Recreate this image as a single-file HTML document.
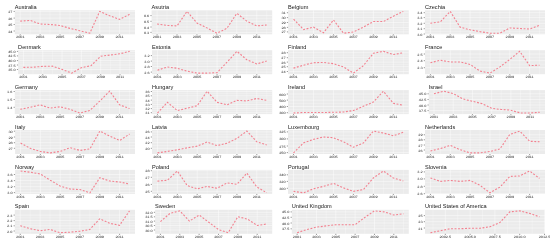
<!DOCTYPE html>
<html><head><meta charset="utf-8"><style>
html,body{margin:0;padding:0;background:#fff;width:550px;height:243px;overflow:hidden}
svg{display:block;will-change:transform}
text{font-family:"Liberation Sans",sans-serif}
.t{font-size:4.6px;fill:#1a1a1a}
.a{font-size:3.2px;fill:#2a2a2a;text-rendering:geometricPrecision}
</style></head><body>
<svg width="550" height="243" viewBox="0 0 550 243">
<rect width="550" height="243" fill="#fff"/>
<rect x="14.80" y="10.30" width="120.20" height="24.00" fill="#EBEBEB"/>
<line x1="30.20" y1="10.30" x2="30.20" y2="34.30" stroke="#fff" stroke-width="0.25"/>
<line x1="50.07" y1="10.30" x2="50.07" y2="34.30" stroke="#fff" stroke-width="0.25"/>
<line x1="69.93" y1="10.30" x2="69.93" y2="34.30" stroke="#fff" stroke-width="0.25"/>
<line x1="89.80" y1="10.30" x2="89.80" y2="34.30" stroke="#fff" stroke-width="0.25"/>
<line x1="109.67" y1="10.30" x2="109.67" y2="34.30" stroke="#fff" stroke-width="0.25"/>
<line x1="129.54" y1="10.30" x2="129.54" y2="34.30" stroke="#fff" stroke-width="0.25"/>
<line x1="20.26" y1="10.30" x2="20.26" y2="34.30" stroke="#fff" stroke-width="0.45"/>
<line x1="40.13" y1="10.30" x2="40.13" y2="34.30" stroke="#fff" stroke-width="0.45"/>
<line x1="60.00" y1="10.30" x2="60.00" y2="34.30" stroke="#fff" stroke-width="0.45"/>
<line x1="79.87" y1="10.30" x2="79.87" y2="34.30" stroke="#fff" stroke-width="0.45"/>
<line x1="99.73" y1="10.30" x2="99.73" y2="34.30" stroke="#fff" stroke-width="0.45"/>
<line x1="119.60" y1="10.30" x2="119.60" y2="34.30" stroke="#fff" stroke-width="0.45"/>
<line x1="14.80" y1="11.40" x2="135.00" y2="11.40" stroke="#fff" stroke-width="0.45"/>
<line x1="14.80" y1="14.75" x2="135.00" y2="14.75" stroke="#fff" stroke-width="0.25"/>
<line x1="14.80" y1="18.10" x2="135.00" y2="18.10" stroke="#fff" stroke-width="0.45"/>
<line x1="14.80" y1="21.30" x2="135.00" y2="21.30" stroke="#fff" stroke-width="0.25"/>
<line x1="14.80" y1="24.50" x2="135.00" y2="24.50" stroke="#fff" stroke-width="0.45"/>
<line x1="14.80" y1="27.75" x2="135.00" y2="27.75" stroke="#fff" stroke-width="0.25"/>
<line x1="14.80" y1="31.00" x2="135.00" y2="31.00" stroke="#fff" stroke-width="0.45"/>
<polyline points="20.26,21.09 30.20,20.36 40.13,24.00 50.07,24.48 60.00,25.45 69.93,28.36 79.87,30.78 89.80,33.21 99.73,11.39 109.67,15.75 119.60,19.39 129.54,14.30" fill="none" stroke="#F3808F" stroke-width="1.1" stroke-dasharray="1.9,1.6"/>
<line x1="13.60" y1="11.40" x2="14.80" y2="11.40" stroke="#333" stroke-width="0.5"/>
<text x="0" y="0" transform="translate(12.40,12.95) scale(1.2,1)" text-anchor="end" class="a">27</text>
<line x1="13.60" y1="18.10" x2="14.80" y2="18.10" stroke="#333" stroke-width="0.5"/>
<text x="0" y="0" transform="translate(12.40,19.65) scale(1.2,1)" text-anchor="end" class="a">26</text>
<line x1="13.60" y1="24.50" x2="14.80" y2="24.50" stroke="#333" stroke-width="0.5"/>
<text x="0" y="0" transform="translate(12.40,26.05) scale(1.2,1)" text-anchor="end" class="a">25</text>
<line x1="13.60" y1="31.00" x2="14.80" y2="31.00" stroke="#333" stroke-width="0.5"/>
<text x="0" y="0" transform="translate(12.40,32.55) scale(1.2,1)" text-anchor="end" class="a">24</text>
<line x1="20.26" y1="34.30" x2="20.26" y2="35.50" stroke="#333" stroke-width="0.5"/>
<text x="0" y="0" transform="translate(20.26,38.40) scale(1.2,1)" text-anchor="middle" class="a">2001</text>
<line x1="40.13" y1="34.30" x2="40.13" y2="35.50" stroke="#333" stroke-width="0.5"/>
<text x="0" y="0" transform="translate(40.13,38.40) scale(1.2,1)" text-anchor="middle" class="a">2003</text>
<line x1="60.00" y1="34.30" x2="60.00" y2="35.50" stroke="#333" stroke-width="0.5"/>
<text x="0" y="0" transform="translate(60.00,38.40) scale(1.2,1)" text-anchor="middle" class="a">2005</text>
<line x1="79.87" y1="34.30" x2="79.87" y2="35.50" stroke="#333" stroke-width="0.5"/>
<text x="0" y="0" transform="translate(79.87,38.40) scale(1.2,1)" text-anchor="middle" class="a">2007</text>
<line x1="99.73" y1="34.30" x2="99.73" y2="35.50" stroke="#333" stroke-width="0.5"/>
<text x="0" y="0" transform="translate(99.73,38.40) scale(1.2,1)" text-anchor="middle" class="a">2009</text>
<line x1="119.60" y1="34.30" x2="119.60" y2="35.50" stroke="#333" stroke-width="0.5"/>
<text x="0" y="0" transform="translate(119.60,38.40) scale(1.2,1)" text-anchor="middle" class="a">2011</text>
<text x="0" y="0" transform="translate(14.80,8.90) scale(1.22,1)" class="t">Australia</text>
<rect x="151.60" y="10.30" width="120.60" height="24.00" fill="#EBEBEB"/>
<line x1="167.05" y1="10.30" x2="167.05" y2="34.30" stroke="#fff" stroke-width="0.25"/>
<line x1="186.98" y1="10.30" x2="186.98" y2="34.30" stroke="#fff" stroke-width="0.25"/>
<line x1="206.92" y1="10.30" x2="206.92" y2="34.30" stroke="#fff" stroke-width="0.25"/>
<line x1="226.85" y1="10.30" x2="226.85" y2="34.30" stroke="#fff" stroke-width="0.25"/>
<line x1="246.78" y1="10.30" x2="246.78" y2="34.30" stroke="#fff" stroke-width="0.25"/>
<line x1="266.72" y1="10.30" x2="266.72" y2="34.30" stroke="#fff" stroke-width="0.25"/>
<line x1="157.08" y1="10.30" x2="157.08" y2="34.30" stroke="#fff" stroke-width="0.45"/>
<line x1="177.02" y1="10.30" x2="177.02" y2="34.30" stroke="#fff" stroke-width="0.45"/>
<line x1="196.95" y1="10.30" x2="196.95" y2="34.30" stroke="#fff" stroke-width="0.45"/>
<line x1="216.88" y1="10.30" x2="216.88" y2="34.30" stroke="#fff" stroke-width="0.45"/>
<line x1="236.82" y1="10.30" x2="236.82" y2="34.30" stroke="#fff" stroke-width="0.45"/>
<line x1="256.75" y1="10.30" x2="256.75" y2="34.30" stroke="#fff" stroke-width="0.45"/>
<line x1="151.60" y1="15.60" x2="272.20" y2="15.60" stroke="#fff" stroke-width="0.45"/>
<line x1="151.60" y1="18.45" x2="272.20" y2="18.45" stroke="#fff" stroke-width="0.25"/>
<line x1="151.60" y1="21.30" x2="272.20" y2="21.30" stroke="#fff" stroke-width="0.45"/>
<line x1="151.60" y1="24.15" x2="272.20" y2="24.15" stroke="#fff" stroke-width="0.25"/>
<line x1="151.60" y1="27.00" x2="272.20" y2="27.00" stroke="#fff" stroke-width="0.45"/>
<line x1="151.60" y1="29.70" x2="272.20" y2="29.70" stroke="#fff" stroke-width="0.25"/>
<line x1="151.60" y1="32.40" x2="272.20" y2="32.40" stroke="#fff" stroke-width="0.45"/>
<polyline points="157.08,24.00 167.05,25.45 177.02,25.94 186.98,11.39 196.95,23.03 206.92,27.88 216.88,33.21 226.85,28.36 236.82,13.33 246.78,21.09 256.75,25.94 266.72,24.97" fill="none" stroke="#F3808F" stroke-width="1.1" stroke-dasharray="1.9,1.6"/>
<line x1="150.40" y1="15.60" x2="151.60" y2="15.60" stroke="#333" stroke-width="0.5"/>
<text x="0" y="0" transform="translate(149.20,17.15) scale(1.2,1)" text-anchor="end" class="a">0.6</text>
<line x1="150.40" y1="21.30" x2="151.60" y2="21.30" stroke="#333" stroke-width="0.5"/>
<text x="0" y="0" transform="translate(149.20,22.85) scale(1.2,1)" text-anchor="end" class="a">0.5</text>
<line x1="150.40" y1="27.00" x2="151.60" y2="27.00" stroke="#333" stroke-width="0.5"/>
<text x="0" y="0" transform="translate(149.20,28.55) scale(1.2,1)" text-anchor="end" class="a">0.4</text>
<line x1="150.40" y1="32.40" x2="151.60" y2="32.40" stroke="#333" stroke-width="0.5"/>
<text x="0" y="0" transform="translate(149.20,33.95) scale(1.2,1)" text-anchor="end" class="a">0.3</text>
<line x1="157.08" y1="34.30" x2="157.08" y2="35.50" stroke="#333" stroke-width="0.5"/>
<text x="0" y="0" transform="translate(157.08,38.40) scale(1.2,1)" text-anchor="middle" class="a">2001</text>
<line x1="177.02" y1="34.30" x2="177.02" y2="35.50" stroke="#333" stroke-width="0.5"/>
<text x="0" y="0" transform="translate(177.02,38.40) scale(1.2,1)" text-anchor="middle" class="a">2003</text>
<line x1="196.95" y1="34.30" x2="196.95" y2="35.50" stroke="#333" stroke-width="0.5"/>
<text x="0" y="0" transform="translate(196.95,38.40) scale(1.2,1)" text-anchor="middle" class="a">2005</text>
<line x1="216.88" y1="34.30" x2="216.88" y2="35.50" stroke="#333" stroke-width="0.5"/>
<text x="0" y="0" transform="translate(216.88,38.40) scale(1.2,1)" text-anchor="middle" class="a">2007</text>
<line x1="236.82" y1="34.30" x2="236.82" y2="35.50" stroke="#333" stroke-width="0.5"/>
<text x="0" y="0" transform="translate(236.82,38.40) scale(1.2,1)" text-anchor="middle" class="a">2009</text>
<line x1="256.75" y1="34.30" x2="256.75" y2="35.50" stroke="#333" stroke-width="0.5"/>
<text x="0" y="0" transform="translate(256.75,38.40) scale(1.2,1)" text-anchor="middle" class="a">2011</text>
<text x="0" y="0" transform="translate(151.60,8.90) scale(1.22,1)" class="t">Asutria</text>
<rect x="288.10" y="10.30" width="120.70" height="24.00" fill="#EBEBEB"/>
<line x1="303.56" y1="10.30" x2="303.56" y2="34.30" stroke="#fff" stroke-width="0.25"/>
<line x1="323.51" y1="10.30" x2="323.51" y2="34.30" stroke="#fff" stroke-width="0.25"/>
<line x1="343.46" y1="10.30" x2="343.46" y2="34.30" stroke="#fff" stroke-width="0.25"/>
<line x1="363.41" y1="10.30" x2="363.41" y2="34.30" stroke="#fff" stroke-width="0.25"/>
<line x1="383.36" y1="10.30" x2="383.36" y2="34.30" stroke="#fff" stroke-width="0.25"/>
<line x1="403.31" y1="10.30" x2="403.31" y2="34.30" stroke="#fff" stroke-width="0.25"/>
<line x1="293.59" y1="10.30" x2="293.59" y2="34.30" stroke="#fff" stroke-width="0.45"/>
<line x1="313.54" y1="10.30" x2="313.54" y2="34.30" stroke="#fff" stroke-width="0.45"/>
<line x1="333.49" y1="10.30" x2="333.49" y2="34.30" stroke="#fff" stroke-width="0.45"/>
<line x1="353.44" y1="10.30" x2="353.44" y2="34.30" stroke="#fff" stroke-width="0.45"/>
<line x1="373.39" y1="10.30" x2="373.39" y2="34.30" stroke="#fff" stroke-width="0.45"/>
<line x1="393.34" y1="10.30" x2="393.34" y2="34.30" stroke="#fff" stroke-width="0.45"/>
<line x1="288.10" y1="12.70" x2="408.80" y2="12.70" stroke="#fff" stroke-width="0.45"/>
<line x1="288.10" y1="15.15" x2="408.80" y2="15.15" stroke="#fff" stroke-width="0.25"/>
<line x1="288.10" y1="17.60" x2="408.80" y2="17.60" stroke="#fff" stroke-width="0.45"/>
<line x1="288.10" y1="20.05" x2="408.80" y2="20.05" stroke="#fff" stroke-width="0.25"/>
<line x1="288.10" y1="22.50" x2="408.80" y2="22.50" stroke="#fff" stroke-width="0.45"/>
<line x1="288.10" y1="24.95" x2="408.80" y2="24.95" stroke="#fff" stroke-width="0.25"/>
<line x1="288.10" y1="27.40" x2="408.80" y2="27.40" stroke="#fff" stroke-width="0.45"/>
<line x1="288.10" y1="29.65" x2="408.80" y2="29.65" stroke="#fff" stroke-width="0.25"/>
<line x1="288.10" y1="31.90" x2="408.80" y2="31.90" stroke="#fff" stroke-width="0.45"/>
<polyline points="293.59,19.15 303.56,29.57 313.54,27.15 323.51,32.72 333.49,19.88 343.46,33.21 353.44,32.00 363.41,27.15 373.39,21.57 383.36,21.57 393.34,16.24 403.31,11.39" fill="none" stroke="#F3808F" stroke-width="1.1" stroke-dasharray="1.9,1.6"/>
<line x1="286.90" y1="12.70" x2="288.10" y2="12.70" stroke="#333" stroke-width="0.5"/>
<text x="0" y="0" transform="translate(285.70,14.25) scale(1.2,1)" text-anchor="end" class="a">31</text>
<line x1="286.90" y1="17.60" x2="288.10" y2="17.60" stroke="#333" stroke-width="0.5"/>
<text x="0" y="0" transform="translate(285.70,19.15) scale(1.2,1)" text-anchor="end" class="a">30</text>
<line x1="286.90" y1="22.50" x2="288.10" y2="22.50" stroke="#333" stroke-width="0.5"/>
<text x="0" y="0" transform="translate(285.70,24.05) scale(1.2,1)" text-anchor="end" class="a">29</text>
<line x1="286.90" y1="27.40" x2="288.10" y2="27.40" stroke="#333" stroke-width="0.5"/>
<text x="0" y="0" transform="translate(285.70,28.95) scale(1.2,1)" text-anchor="end" class="a">28</text>
<line x1="286.90" y1="31.90" x2="288.10" y2="31.90" stroke="#333" stroke-width="0.5"/>
<text x="0" y="0" transform="translate(285.70,33.45) scale(1.2,1)" text-anchor="end" class="a">27</text>
<line x1="293.59" y1="34.30" x2="293.59" y2="35.50" stroke="#333" stroke-width="0.5"/>
<text x="0" y="0" transform="translate(293.59,38.40) scale(1.2,1)" text-anchor="middle" class="a">2001</text>
<line x1="313.54" y1="34.30" x2="313.54" y2="35.50" stroke="#333" stroke-width="0.5"/>
<text x="0" y="0" transform="translate(313.54,38.40) scale(1.2,1)" text-anchor="middle" class="a">2003</text>
<line x1="333.49" y1="34.30" x2="333.49" y2="35.50" stroke="#333" stroke-width="0.5"/>
<text x="0" y="0" transform="translate(333.49,38.40) scale(1.2,1)" text-anchor="middle" class="a">2005</text>
<line x1="353.44" y1="34.30" x2="353.44" y2="35.50" stroke="#333" stroke-width="0.5"/>
<text x="0" y="0" transform="translate(353.44,38.40) scale(1.2,1)" text-anchor="middle" class="a">2007</text>
<line x1="373.39" y1="34.30" x2="373.39" y2="35.50" stroke="#333" stroke-width="0.5"/>
<text x="0" y="0" transform="translate(373.39,38.40) scale(1.2,1)" text-anchor="middle" class="a">2009</text>
<line x1="393.34" y1="34.30" x2="393.34" y2="35.50" stroke="#333" stroke-width="0.5"/>
<text x="0" y="0" transform="translate(393.34,38.40) scale(1.2,1)" text-anchor="middle" class="a">2011</text>
<text x="0" y="0" transform="translate(288.10,8.90) scale(1.22,1)" class="t">Belgium</text>
<rect x="424.90" y="10.30" width="120.10" height="24.00" fill="#EBEBEB"/>
<line x1="440.28" y1="10.30" x2="440.28" y2="34.30" stroke="#fff" stroke-width="0.25"/>
<line x1="460.14" y1="10.30" x2="460.14" y2="34.30" stroke="#fff" stroke-width="0.25"/>
<line x1="479.99" y1="10.30" x2="479.99" y2="34.30" stroke="#fff" stroke-width="0.25"/>
<line x1="499.84" y1="10.30" x2="499.84" y2="34.30" stroke="#fff" stroke-width="0.25"/>
<line x1="519.69" y1="10.30" x2="519.69" y2="34.30" stroke="#fff" stroke-width="0.25"/>
<line x1="539.54" y1="10.30" x2="539.54" y2="34.30" stroke="#fff" stroke-width="0.25"/>
<line x1="430.36" y1="10.30" x2="430.36" y2="34.30" stroke="#fff" stroke-width="0.45"/>
<line x1="450.21" y1="10.30" x2="450.21" y2="34.30" stroke="#fff" stroke-width="0.45"/>
<line x1="470.06" y1="10.30" x2="470.06" y2="34.30" stroke="#fff" stroke-width="0.45"/>
<line x1="489.91" y1="10.30" x2="489.91" y2="34.30" stroke="#fff" stroke-width="0.45"/>
<line x1="509.76" y1="10.30" x2="509.76" y2="34.30" stroke="#fff" stroke-width="0.45"/>
<line x1="529.62" y1="10.30" x2="529.62" y2="34.30" stroke="#fff" stroke-width="0.45"/>
<line x1="424.90" y1="12.70" x2="545.00" y2="12.70" stroke="#fff" stroke-width="0.45"/>
<line x1="424.90" y1="15.15" x2="545.00" y2="15.15" stroke="#fff" stroke-width="0.25"/>
<line x1="424.90" y1="17.60" x2="545.00" y2="17.60" stroke="#fff" stroke-width="0.45"/>
<line x1="424.90" y1="20.45" x2="545.00" y2="20.45" stroke="#fff" stroke-width="0.25"/>
<line x1="424.90" y1="23.30" x2="545.00" y2="23.30" stroke="#fff" stroke-width="0.45"/>
<line x1="424.90" y1="26.00" x2="545.00" y2="26.00" stroke="#fff" stroke-width="0.25"/>
<line x1="424.90" y1="28.70" x2="545.00" y2="28.70" stroke="#fff" stroke-width="0.45"/>
<line x1="424.90" y1="31.35" x2="545.00" y2="31.35" stroke="#fff" stroke-width="0.25"/>
<line x1="424.90" y1="34.00" x2="545.00" y2="34.00" stroke="#fff" stroke-width="0.45"/>
<polyline points="430.36,23.22 440.28,21.91 450.21,11.39 460.14,27.16 470.06,29.79 479.99,31.63 489.91,33.21 499.84,33.21 509.76,27.95 519.69,28.48 529.62,29.00 539.54,25.32" fill="none" stroke="#F3808F" stroke-width="1.1" stroke-dasharray="1.9,1.6"/>
<line x1="423.70" y1="12.70" x2="424.90" y2="12.70" stroke="#333" stroke-width="0.5"/>
<text x="0" y="0" transform="translate(422.50,14.25) scale(1.2,1)" text-anchor="end" class="a">3.4</text>
<line x1="423.70" y1="17.60" x2="424.90" y2="17.60" stroke="#333" stroke-width="0.5"/>
<text x="0" y="0" transform="translate(422.50,19.15) scale(1.2,1)" text-anchor="end" class="a">3.3</text>
<line x1="423.70" y1="23.30" x2="424.90" y2="23.30" stroke="#333" stroke-width="0.5"/>
<text x="0" y="0" transform="translate(422.50,24.85) scale(1.2,1)" text-anchor="end" class="a">3.2</text>
<line x1="423.70" y1="28.70" x2="424.90" y2="28.70" stroke="#333" stroke-width="0.5"/>
<text x="0" y="0" transform="translate(422.50,30.25) scale(1.2,1)" text-anchor="end" class="a">3.1</text>
<line x1="423.70" y1="34.00" x2="424.90" y2="34.00" stroke="#333" stroke-width="0.5"/>
<text x="0" y="0" transform="translate(422.50,35.55) scale(1.2,1)" text-anchor="end" class="a">3.0</text>
<line x1="430.36" y1="34.30" x2="430.36" y2="35.50" stroke="#333" stroke-width="0.5"/>
<text x="0" y="0" transform="translate(430.36,38.40) scale(1.2,1)" text-anchor="middle" class="a">2001</text>
<line x1="450.21" y1="34.30" x2="450.21" y2="35.50" stroke="#333" stroke-width="0.5"/>
<text x="0" y="0" transform="translate(450.21,38.40) scale(1.2,1)" text-anchor="middle" class="a">2003</text>
<line x1="470.06" y1="34.30" x2="470.06" y2="35.50" stroke="#333" stroke-width="0.5"/>
<text x="0" y="0" transform="translate(470.06,38.40) scale(1.2,1)" text-anchor="middle" class="a">2005</text>
<line x1="489.91" y1="34.30" x2="489.91" y2="35.50" stroke="#333" stroke-width="0.5"/>
<text x="0" y="0" transform="translate(489.91,38.40) scale(1.2,1)" text-anchor="middle" class="a">2007</text>
<line x1="509.76" y1="34.30" x2="509.76" y2="35.50" stroke="#333" stroke-width="0.5"/>
<text x="0" y="0" transform="translate(509.76,38.40) scale(1.2,1)" text-anchor="middle" class="a">2009</text>
<line x1="529.62" y1="34.30" x2="529.62" y2="35.50" stroke="#333" stroke-width="0.5"/>
<text x="0" y="0" transform="translate(529.62,38.40) scale(1.2,1)" text-anchor="middle" class="a">2011</text>
<text x="0" y="0" transform="translate(424.90,8.90) scale(1.22,1)" class="t">Czechia</text>
<rect x="18.10" y="50.20" width="116.90" height="24.00" fill="#EBEBEB"/>
<line x1="33.07" y1="50.20" x2="33.07" y2="74.20" stroke="#fff" stroke-width="0.25"/>
<line x1="52.40" y1="50.20" x2="52.40" y2="74.20" stroke="#fff" stroke-width="0.25"/>
<line x1="71.72" y1="50.20" x2="71.72" y2="74.20" stroke="#fff" stroke-width="0.25"/>
<line x1="91.04" y1="50.20" x2="91.04" y2="74.20" stroke="#fff" stroke-width="0.25"/>
<line x1="110.36" y1="50.20" x2="110.36" y2="74.20" stroke="#fff" stroke-width="0.25"/>
<line x1="129.69" y1="50.20" x2="129.69" y2="74.20" stroke="#fff" stroke-width="0.25"/>
<line x1="23.41" y1="50.20" x2="23.41" y2="74.20" stroke="#fff" stroke-width="0.45"/>
<line x1="42.74" y1="50.20" x2="42.74" y2="74.20" stroke="#fff" stroke-width="0.45"/>
<line x1="62.06" y1="50.20" x2="62.06" y2="74.20" stroke="#fff" stroke-width="0.45"/>
<line x1="81.38" y1="50.20" x2="81.38" y2="74.20" stroke="#fff" stroke-width="0.45"/>
<line x1="100.70" y1="50.20" x2="100.70" y2="74.20" stroke="#fff" stroke-width="0.45"/>
<line x1="120.03" y1="50.20" x2="120.03" y2="74.20" stroke="#fff" stroke-width="0.45"/>
<line x1="18.10" y1="51.40" x2="135.00" y2="51.40" stroke="#fff" stroke-width="0.45"/>
<line x1="18.10" y1="53.65" x2="135.00" y2="53.65" stroke="#fff" stroke-width="0.25"/>
<line x1="18.10" y1="55.90" x2="135.00" y2="55.90" stroke="#fff" stroke-width="0.45"/>
<line x1="18.10" y1="58.25" x2="135.00" y2="58.25" stroke="#fff" stroke-width="0.25"/>
<line x1="18.10" y1="60.60" x2="135.00" y2="60.60" stroke="#fff" stroke-width="0.45"/>
<line x1="18.10" y1="62.80" x2="135.00" y2="62.80" stroke="#fff" stroke-width="0.25"/>
<line x1="18.10" y1="65.00" x2="135.00" y2="65.00" stroke="#fff" stroke-width="0.45"/>
<line x1="18.10" y1="67.25" x2="135.00" y2="67.25" stroke="#fff" stroke-width="0.25"/>
<line x1="18.10" y1="69.50" x2="135.00" y2="69.50" stroke="#fff" stroke-width="0.45"/>
<polyline points="23.41,67.41 33.07,67.16 42.74,66.41 52.40,66.17 62.06,69.39 71.72,73.11 81.38,67.65 91.04,65.67 100.70,56.25 110.36,55.01 120.03,53.77 129.69,51.29" fill="none" stroke="#F3808F" stroke-width="1.1" stroke-dasharray="1.9,1.6"/>
<line x1="16.90" y1="51.40" x2="18.10" y2="51.40" stroke="#333" stroke-width="0.5"/>
<text x="0" y="0" transform="translate(15.70,52.95) scale(1.2,1)" text-anchor="end" class="a">45.0</text>
<line x1="16.90" y1="55.90" x2="18.10" y2="55.90" stroke="#333" stroke-width="0.5"/>
<text x="0" y="0" transform="translate(15.70,57.45) scale(1.2,1)" text-anchor="end" class="a">42.5</text>
<line x1="16.90" y1="60.60" x2="18.10" y2="60.60" stroke="#333" stroke-width="0.5"/>
<text x="0" y="0" transform="translate(15.70,62.15) scale(1.2,1)" text-anchor="end" class="a">40.0</text>
<line x1="16.90" y1="65.00" x2="18.10" y2="65.00" stroke="#333" stroke-width="0.5"/>
<text x="0" y="0" transform="translate(15.70,66.55) scale(1.2,1)" text-anchor="end" class="a">37.5</text>
<line x1="16.90" y1="69.50" x2="18.10" y2="69.50" stroke="#333" stroke-width="0.5"/>
<text x="0" y="0" transform="translate(15.70,71.05) scale(1.2,1)" text-anchor="end" class="a">35.0</text>
<line x1="23.41" y1="74.20" x2="23.41" y2="75.40" stroke="#333" stroke-width="0.5"/>
<text x="0" y="0" transform="translate(23.41,78.30) scale(1.2,1)" text-anchor="middle" class="a">2001</text>
<line x1="42.74" y1="74.20" x2="42.74" y2="75.40" stroke="#333" stroke-width="0.5"/>
<text x="0" y="0" transform="translate(42.74,78.30) scale(1.2,1)" text-anchor="middle" class="a">2003</text>
<line x1="62.06" y1="74.20" x2="62.06" y2="75.40" stroke="#333" stroke-width="0.5"/>
<text x="0" y="0" transform="translate(62.06,78.30) scale(1.2,1)" text-anchor="middle" class="a">2005</text>
<line x1="81.38" y1="74.20" x2="81.38" y2="75.40" stroke="#333" stroke-width="0.5"/>
<text x="0" y="0" transform="translate(81.38,78.30) scale(1.2,1)" text-anchor="middle" class="a">2007</text>
<line x1="100.70" y1="74.20" x2="100.70" y2="75.40" stroke="#333" stroke-width="0.5"/>
<text x="0" y="0" transform="translate(100.70,78.30) scale(1.2,1)" text-anchor="middle" class="a">2009</text>
<line x1="120.03" y1="74.20" x2="120.03" y2="75.40" stroke="#333" stroke-width="0.5"/>
<text x="0" y="0" transform="translate(120.03,78.30) scale(1.2,1)" text-anchor="middle" class="a">2011</text>
<text x="0" y="0" transform="translate(18.10,48.80) scale(1.22,1)" class="t">Denmark</text>
<rect x="152.00" y="50.20" width="120.20" height="24.00" fill="#EBEBEB"/>
<line x1="167.40" y1="50.20" x2="167.40" y2="74.20" stroke="#fff" stroke-width="0.25"/>
<line x1="187.27" y1="50.20" x2="187.27" y2="74.20" stroke="#fff" stroke-width="0.25"/>
<line x1="207.13" y1="50.20" x2="207.13" y2="74.20" stroke="#fff" stroke-width="0.25"/>
<line x1="227.00" y1="50.20" x2="227.00" y2="74.20" stroke="#fff" stroke-width="0.25"/>
<line x1="246.87" y1="50.20" x2="246.87" y2="74.20" stroke="#fff" stroke-width="0.25"/>
<line x1="266.74" y1="50.20" x2="266.74" y2="74.20" stroke="#fff" stroke-width="0.25"/>
<line x1="157.46" y1="50.20" x2="157.46" y2="74.20" stroke="#fff" stroke-width="0.45"/>
<line x1="177.33" y1="50.20" x2="177.33" y2="74.20" stroke="#fff" stroke-width="0.45"/>
<line x1="197.20" y1="50.20" x2="197.20" y2="74.20" stroke="#fff" stroke-width="0.45"/>
<line x1="217.07" y1="50.20" x2="217.07" y2="74.20" stroke="#fff" stroke-width="0.45"/>
<line x1="236.93" y1="50.20" x2="236.93" y2="74.20" stroke="#fff" stroke-width="0.45"/>
<line x1="256.80" y1="50.20" x2="256.80" y2="74.20" stroke="#fff" stroke-width="0.45"/>
<line x1="152.00" y1="55.60" x2="272.20" y2="55.60" stroke="#fff" stroke-width="0.45"/>
<line x1="152.00" y1="58.35" x2="272.20" y2="58.35" stroke="#fff" stroke-width="0.25"/>
<line x1="152.00" y1="61.10" x2="272.20" y2="61.10" stroke="#fff" stroke-width="0.45"/>
<line x1="152.00" y1="63.80" x2="272.20" y2="63.80" stroke="#fff" stroke-width="0.25"/>
<line x1="152.00" y1="66.50" x2="272.20" y2="66.50" stroke="#fff" stroke-width="0.45"/>
<line x1="152.00" y1="69.30" x2="272.20" y2="69.30" stroke="#fff" stroke-width="0.25"/>
<line x1="152.00" y1="72.10" x2="272.20" y2="72.10" stroke="#fff" stroke-width="0.45"/>
<polyline points="157.46,70.20 167.40,67.05 177.33,68.26 187.27,71.17 197.20,73.11 207.13,73.11 217.07,72.62 227.00,62.20 236.93,51.29 246.87,59.78 256.80,63.90 266.74,60.99" fill="none" stroke="#F3808F" stroke-width="1.1" stroke-dasharray="1.9,1.6"/>
<line x1="150.80" y1="55.60" x2="152.00" y2="55.60" stroke="#333" stroke-width="0.5"/>
<text x="0" y="0" transform="translate(149.60,57.15) scale(1.2,1)" text-anchor="end" class="a">3.2</text>
<line x1="150.80" y1="61.10" x2="152.00" y2="61.10" stroke="#333" stroke-width="0.5"/>
<text x="0" y="0" transform="translate(149.60,62.65) scale(1.2,1)" text-anchor="end" class="a">3.0</text>
<line x1="150.80" y1="66.50" x2="152.00" y2="66.50" stroke="#333" stroke-width="0.5"/>
<text x="0" y="0" transform="translate(149.60,68.05) scale(1.2,1)" text-anchor="end" class="a">2.8</text>
<line x1="150.80" y1="72.10" x2="152.00" y2="72.10" stroke="#333" stroke-width="0.5"/>
<text x="0" y="0" transform="translate(149.60,73.65) scale(1.2,1)" text-anchor="end" class="a">2.6</text>
<line x1="157.46" y1="74.20" x2="157.46" y2="75.40" stroke="#333" stroke-width="0.5"/>
<text x="0" y="0" transform="translate(157.46,78.30) scale(1.2,1)" text-anchor="middle" class="a">2001</text>
<line x1="177.33" y1="74.20" x2="177.33" y2="75.40" stroke="#333" stroke-width="0.5"/>
<text x="0" y="0" transform="translate(177.33,78.30) scale(1.2,1)" text-anchor="middle" class="a">2003</text>
<line x1="197.20" y1="74.20" x2="197.20" y2="75.40" stroke="#333" stroke-width="0.5"/>
<text x="0" y="0" transform="translate(197.20,78.30) scale(1.2,1)" text-anchor="middle" class="a">2005</text>
<line x1="217.07" y1="74.20" x2="217.07" y2="75.40" stroke="#333" stroke-width="0.5"/>
<text x="0" y="0" transform="translate(217.07,78.30) scale(1.2,1)" text-anchor="middle" class="a">2007</text>
<line x1="236.93" y1="74.20" x2="236.93" y2="75.40" stroke="#333" stroke-width="0.5"/>
<text x="0" y="0" transform="translate(236.93,78.30) scale(1.2,1)" text-anchor="middle" class="a">2009</text>
<line x1="256.80" y1="74.20" x2="256.80" y2="75.40" stroke="#333" stroke-width="0.5"/>
<text x="0" y="0" transform="translate(256.80,78.30) scale(1.2,1)" text-anchor="middle" class="a">2011</text>
<text x="0" y="0" transform="translate(152.00,48.80) scale(1.22,1)" class="t">Estonia</text>
<rect x="288.00" y="50.20" width="120.80" height="24.00" fill="#EBEBEB"/>
<line x1="303.47" y1="50.20" x2="303.47" y2="74.20" stroke="#fff" stroke-width="0.25"/>
<line x1="323.44" y1="50.20" x2="323.44" y2="74.20" stroke="#fff" stroke-width="0.25"/>
<line x1="343.41" y1="50.20" x2="343.41" y2="74.20" stroke="#fff" stroke-width="0.25"/>
<line x1="363.38" y1="50.20" x2="363.38" y2="74.20" stroke="#fff" stroke-width="0.25"/>
<line x1="383.34" y1="50.20" x2="383.34" y2="74.20" stroke="#fff" stroke-width="0.25"/>
<line x1="403.31" y1="50.20" x2="403.31" y2="74.20" stroke="#fff" stroke-width="0.25"/>
<line x1="293.49" y1="50.20" x2="293.49" y2="74.20" stroke="#fff" stroke-width="0.45"/>
<line x1="313.46" y1="50.20" x2="313.46" y2="74.20" stroke="#fff" stroke-width="0.45"/>
<line x1="333.42" y1="50.20" x2="333.42" y2="74.20" stroke="#fff" stroke-width="0.45"/>
<line x1="353.39" y1="50.20" x2="353.39" y2="74.20" stroke="#fff" stroke-width="0.45"/>
<line x1="373.36" y1="50.20" x2="373.36" y2="74.20" stroke="#fff" stroke-width="0.45"/>
<line x1="393.33" y1="50.20" x2="393.33" y2="74.20" stroke="#fff" stroke-width="0.45"/>
<line x1="288.00" y1="52.70" x2="408.80" y2="52.70" stroke="#fff" stroke-width="0.45"/>
<line x1="288.00" y1="55.20" x2="408.80" y2="55.20" stroke="#fff" stroke-width="0.25"/>
<line x1="288.00" y1="57.70" x2="408.80" y2="57.70" stroke="#fff" stroke-width="0.45"/>
<line x1="288.00" y1="59.90" x2="408.80" y2="59.90" stroke="#fff" stroke-width="0.25"/>
<line x1="288.00" y1="62.10" x2="408.80" y2="62.10" stroke="#fff" stroke-width="0.45"/>
<line x1="288.00" y1="64.40" x2="408.80" y2="64.40" stroke="#fff" stroke-width="0.25"/>
<line x1="288.00" y1="66.70" x2="408.80" y2="66.70" stroke="#fff" stroke-width="0.45"/>
<line x1="288.00" y1="69.10" x2="408.80" y2="69.10" stroke="#fff" stroke-width="0.25"/>
<line x1="288.00" y1="71.50" x2="408.80" y2="71.50" stroke="#fff" stroke-width="0.45"/>
<polyline points="293.49,68.15 303.47,65.18 313.46,62.70 323.44,62.45 333.42,63.69 343.41,66.91 353.39,73.11 363.38,65.67 373.36,53.27 383.34,51.29 393.33,54.51 403.31,52.78" fill="none" stroke="#F3808F" stroke-width="1.1" stroke-dasharray="1.9,1.6"/>
<line x1="286.80" y1="52.70" x2="288.00" y2="52.70" stroke="#333" stroke-width="0.5"/>
<text x="0" y="0" transform="translate(285.60,54.25) scale(1.2,1)" text-anchor="end" class="a">28</text>
<line x1="286.80" y1="57.70" x2="288.00" y2="57.70" stroke="#333" stroke-width="0.5"/>
<text x="0" y="0" transform="translate(285.60,59.25) scale(1.2,1)" text-anchor="end" class="a">27</text>
<line x1="286.80" y1="62.10" x2="288.00" y2="62.10" stroke="#333" stroke-width="0.5"/>
<text x="0" y="0" transform="translate(285.60,63.65) scale(1.2,1)" text-anchor="end" class="a">26</text>
<line x1="286.80" y1="66.70" x2="288.00" y2="66.70" stroke="#333" stroke-width="0.5"/>
<text x="0" y="0" transform="translate(285.60,68.25) scale(1.2,1)" text-anchor="end" class="a">25</text>
<line x1="286.80" y1="71.50" x2="288.00" y2="71.50" stroke="#333" stroke-width="0.5"/>
<text x="0" y="0" transform="translate(285.60,73.05) scale(1.2,1)" text-anchor="end" class="a">24</text>
<line x1="293.49" y1="74.20" x2="293.49" y2="75.40" stroke="#333" stroke-width="0.5"/>
<text x="0" y="0" transform="translate(293.49,78.30) scale(1.2,1)" text-anchor="middle" class="a">2001</text>
<line x1="313.46" y1="74.20" x2="313.46" y2="75.40" stroke="#333" stroke-width="0.5"/>
<text x="0" y="0" transform="translate(313.46,78.30) scale(1.2,1)" text-anchor="middle" class="a">2003</text>
<line x1="333.42" y1="74.20" x2="333.42" y2="75.40" stroke="#333" stroke-width="0.5"/>
<text x="0" y="0" transform="translate(333.42,78.30) scale(1.2,1)" text-anchor="middle" class="a">2005</text>
<line x1="353.39" y1="74.20" x2="353.39" y2="75.40" stroke="#333" stroke-width="0.5"/>
<text x="0" y="0" transform="translate(353.39,78.30) scale(1.2,1)" text-anchor="middle" class="a">2007</text>
<line x1="373.36" y1="74.20" x2="373.36" y2="75.40" stroke="#333" stroke-width="0.5"/>
<text x="0" y="0" transform="translate(373.36,78.30) scale(1.2,1)" text-anchor="middle" class="a">2009</text>
<line x1="393.33" y1="74.20" x2="393.33" y2="75.40" stroke="#333" stroke-width="0.5"/>
<text x="0" y="0" transform="translate(393.33,78.30) scale(1.2,1)" text-anchor="middle" class="a">2011</text>
<text x="0" y="0" transform="translate(288.00,48.80) scale(1.22,1)" class="t">Finland</text>
<rect x="425.00" y="50.20" width="120.00" height="24.00" fill="#EBEBEB"/>
<line x1="440.37" y1="50.20" x2="440.37" y2="74.20" stroke="#fff" stroke-width="0.25"/>
<line x1="460.21" y1="50.20" x2="460.21" y2="74.20" stroke="#fff" stroke-width="0.25"/>
<line x1="480.04" y1="50.20" x2="480.04" y2="74.20" stroke="#fff" stroke-width="0.25"/>
<line x1="499.88" y1="50.20" x2="499.88" y2="74.20" stroke="#fff" stroke-width="0.25"/>
<line x1="519.71" y1="50.20" x2="519.71" y2="74.20" stroke="#fff" stroke-width="0.25"/>
<line x1="539.55" y1="50.20" x2="539.55" y2="74.20" stroke="#fff" stroke-width="0.25"/>
<line x1="430.45" y1="50.20" x2="430.45" y2="74.20" stroke="#fff" stroke-width="0.45"/>
<line x1="450.29" y1="50.20" x2="450.29" y2="74.20" stroke="#fff" stroke-width="0.45"/>
<line x1="470.12" y1="50.20" x2="470.12" y2="74.20" stroke="#fff" stroke-width="0.45"/>
<line x1="489.96" y1="50.20" x2="489.96" y2="74.20" stroke="#fff" stroke-width="0.45"/>
<line x1="509.79" y1="50.20" x2="509.79" y2="74.20" stroke="#fff" stroke-width="0.45"/>
<line x1="529.63" y1="50.20" x2="529.63" y2="74.20" stroke="#fff" stroke-width="0.45"/>
<line x1="425.00" y1="54.00" x2="545.00" y2="54.00" stroke="#fff" stroke-width="0.45"/>
<line x1="425.00" y1="57.35" x2="545.00" y2="57.35" stroke="#fff" stroke-width="0.25"/>
<line x1="425.00" y1="60.70" x2="545.00" y2="60.70" stroke="#fff" stroke-width="0.45"/>
<line x1="425.00" y1="64.20" x2="545.00" y2="64.20" stroke="#fff" stroke-width="0.25"/>
<line x1="425.00" y1="67.70" x2="545.00" y2="67.70" stroke="#fff" stroke-width="0.45"/>
<polyline points="430.45,62.70 440.37,60.22 450.29,61.95 460.21,61.95 470.12,64.43 480.04,71.13 489.96,73.11 499.88,66.91 509.79,59.47 519.71,51.29 529.63,65.67 539.55,65.18" fill="none" stroke="#F3808F" stroke-width="1.1" stroke-dasharray="1.9,1.6"/>
<line x1="423.80" y1="54.00" x2="425.00" y2="54.00" stroke="#333" stroke-width="0.5"/>
<text x="0" y="0" transform="translate(422.60,55.55) scale(1.2,1)" text-anchor="end" class="a">2.5</text>
<line x1="423.80" y1="60.70" x2="425.00" y2="60.70" stroke="#333" stroke-width="0.5"/>
<text x="0" y="0" transform="translate(422.60,62.25) scale(1.2,1)" text-anchor="end" class="a">2.4</text>
<line x1="423.80" y1="67.70" x2="425.00" y2="67.70" stroke="#333" stroke-width="0.5"/>
<text x="0" y="0" transform="translate(422.60,69.25) scale(1.2,1)" text-anchor="end" class="a">2.3</text>
<line x1="430.45" y1="74.20" x2="430.45" y2="75.40" stroke="#333" stroke-width="0.5"/>
<text x="0" y="0" transform="translate(430.45,78.30) scale(1.2,1)" text-anchor="middle" class="a">2001</text>
<line x1="450.29" y1="74.20" x2="450.29" y2="75.40" stroke="#333" stroke-width="0.5"/>
<text x="0" y="0" transform="translate(450.29,78.30) scale(1.2,1)" text-anchor="middle" class="a">2003</text>
<line x1="470.12" y1="74.20" x2="470.12" y2="75.40" stroke="#333" stroke-width="0.5"/>
<text x="0" y="0" transform="translate(470.12,78.30) scale(1.2,1)" text-anchor="middle" class="a">2005</text>
<line x1="489.96" y1="74.20" x2="489.96" y2="75.40" stroke="#333" stroke-width="0.5"/>
<text x="0" y="0" transform="translate(489.96,78.30) scale(1.2,1)" text-anchor="middle" class="a">2007</text>
<line x1="509.79" y1="74.20" x2="509.79" y2="75.40" stroke="#333" stroke-width="0.5"/>
<text x="0" y="0" transform="translate(509.79,78.30) scale(1.2,1)" text-anchor="middle" class="a">2009</text>
<line x1="529.63" y1="74.20" x2="529.63" y2="75.40" stroke="#333" stroke-width="0.5"/>
<text x="0" y="0" transform="translate(529.63,78.30) scale(1.2,1)" text-anchor="middle" class="a">2011</text>
<text x="0" y="0" transform="translate(425.00,48.80) scale(1.22,1)" class="t">France</text>
<rect x="14.80" y="90.10" width="120.20" height="24.00" fill="#EBEBEB"/>
<line x1="30.20" y1="90.10" x2="30.20" y2="114.10" stroke="#fff" stroke-width="0.25"/>
<line x1="50.07" y1="90.10" x2="50.07" y2="114.10" stroke="#fff" stroke-width="0.25"/>
<line x1="69.93" y1="90.10" x2="69.93" y2="114.10" stroke="#fff" stroke-width="0.25"/>
<line x1="89.80" y1="90.10" x2="89.80" y2="114.10" stroke="#fff" stroke-width="0.25"/>
<line x1="109.67" y1="90.10" x2="109.67" y2="114.10" stroke="#fff" stroke-width="0.25"/>
<line x1="129.54" y1="90.10" x2="129.54" y2="114.10" stroke="#fff" stroke-width="0.25"/>
<line x1="20.26" y1="90.10" x2="20.26" y2="114.10" stroke="#fff" stroke-width="0.45"/>
<line x1="40.13" y1="90.10" x2="40.13" y2="114.10" stroke="#fff" stroke-width="0.45"/>
<line x1="60.00" y1="90.10" x2="60.00" y2="114.10" stroke="#fff" stroke-width="0.45"/>
<line x1="79.87" y1="90.10" x2="79.87" y2="114.10" stroke="#fff" stroke-width="0.45"/>
<line x1="99.73" y1="90.10" x2="99.73" y2="114.10" stroke="#fff" stroke-width="0.45"/>
<line x1="119.60" y1="90.10" x2="119.60" y2="114.10" stroke="#fff" stroke-width="0.45"/>
<line x1="14.80" y1="91.50" x2="135.00" y2="91.50" stroke="#fff" stroke-width="0.45"/>
<line x1="14.80" y1="95.50" x2="135.00" y2="95.50" stroke="#fff" stroke-width="0.25"/>
<line x1="14.80" y1="99.50" x2="135.00" y2="99.50" stroke="#fff" stroke-width="0.45"/>
<line x1="14.80" y1="103.40" x2="135.00" y2="103.40" stroke="#fff" stroke-width="0.25"/>
<line x1="14.80" y1="107.30" x2="135.00" y2="107.30" stroke="#fff" stroke-width="0.45"/>
<polyline points="20.26,109.29 30.20,107.31 40.13,104.83 50.07,108.05 60.00,106.81 69.93,109.29 79.87,113.01 89.80,110.53 99.73,101.11 109.67,91.19 119.60,104.83 129.54,108.55" fill="none" stroke="#F3808F" stroke-width="1.1" stroke-dasharray="1.9,1.6"/>
<line x1="13.60" y1="91.50" x2="14.80" y2="91.50" stroke="#333" stroke-width="0.5"/>
<text x="0" y="0" transform="translate(12.40,93.05) scale(1.2,1)" text-anchor="end" class="a">1.6</text>
<line x1="13.60" y1="99.50" x2="14.80" y2="99.50" stroke="#333" stroke-width="0.5"/>
<text x="0" y="0" transform="translate(12.40,101.05) scale(1.2,1)" text-anchor="end" class="a">1.5</text>
<line x1="13.60" y1="107.30" x2="14.80" y2="107.30" stroke="#333" stroke-width="0.5"/>
<text x="0" y="0" transform="translate(12.40,108.85) scale(1.2,1)" text-anchor="end" class="a">1.4</text>
<line x1="20.26" y1="114.10" x2="20.26" y2="115.30" stroke="#333" stroke-width="0.5"/>
<text x="0" y="0" transform="translate(20.26,118.20) scale(1.2,1)" text-anchor="middle" class="a">2001</text>
<line x1="40.13" y1="114.10" x2="40.13" y2="115.30" stroke="#333" stroke-width="0.5"/>
<text x="0" y="0" transform="translate(40.13,118.20) scale(1.2,1)" text-anchor="middle" class="a">2003</text>
<line x1="60.00" y1="114.10" x2="60.00" y2="115.30" stroke="#333" stroke-width="0.5"/>
<text x="0" y="0" transform="translate(60.00,118.20) scale(1.2,1)" text-anchor="middle" class="a">2005</text>
<line x1="79.87" y1="114.10" x2="79.87" y2="115.30" stroke="#333" stroke-width="0.5"/>
<text x="0" y="0" transform="translate(79.87,118.20) scale(1.2,1)" text-anchor="middle" class="a">2007</text>
<line x1="99.73" y1="114.10" x2="99.73" y2="115.30" stroke="#333" stroke-width="0.5"/>
<text x="0" y="0" transform="translate(99.73,118.20) scale(1.2,1)" text-anchor="middle" class="a">2009</text>
<line x1="119.60" y1="114.10" x2="119.60" y2="115.30" stroke="#333" stroke-width="0.5"/>
<text x="0" y="0" transform="translate(119.60,118.20) scale(1.2,1)" text-anchor="middle" class="a">2011</text>
<text x="0" y="0" transform="translate(14.80,88.70) scale(1.22,1)" class="t">Germany</text>
<rect x="152.00" y="90.10" width="120.20" height="24.00" fill="#EBEBEB"/>
<line x1="167.40" y1="90.10" x2="167.40" y2="114.10" stroke="#fff" stroke-width="0.25"/>
<line x1="187.27" y1="90.10" x2="187.27" y2="114.10" stroke="#fff" stroke-width="0.25"/>
<line x1="207.13" y1="90.10" x2="207.13" y2="114.10" stroke="#fff" stroke-width="0.25"/>
<line x1="227.00" y1="90.10" x2="227.00" y2="114.10" stroke="#fff" stroke-width="0.25"/>
<line x1="246.87" y1="90.10" x2="246.87" y2="114.10" stroke="#fff" stroke-width="0.25"/>
<line x1="266.74" y1="90.10" x2="266.74" y2="114.10" stroke="#fff" stroke-width="0.25"/>
<line x1="157.46" y1="90.10" x2="157.46" y2="114.10" stroke="#fff" stroke-width="0.45"/>
<line x1="177.33" y1="90.10" x2="177.33" y2="114.10" stroke="#fff" stroke-width="0.45"/>
<line x1="197.20" y1="90.10" x2="197.20" y2="114.10" stroke="#fff" stroke-width="0.45"/>
<line x1="217.07" y1="90.10" x2="217.07" y2="114.10" stroke="#fff" stroke-width="0.45"/>
<line x1="236.93" y1="90.10" x2="236.93" y2="114.10" stroke="#fff" stroke-width="0.45"/>
<line x1="256.80" y1="90.10" x2="256.80" y2="114.10" stroke="#fff" stroke-width="0.45"/>
<line x1="152.00" y1="91.50" x2="272.20" y2="91.50" stroke="#fff" stroke-width="0.45"/>
<line x1="152.00" y1="93.65" x2="272.20" y2="93.65" stroke="#fff" stroke-width="0.25"/>
<line x1="152.00" y1="95.80" x2="272.20" y2="95.80" stroke="#fff" stroke-width="0.45"/>
<line x1="152.00" y1="97.95" x2="272.20" y2="97.95" stroke="#fff" stroke-width="0.25"/>
<line x1="152.00" y1="100.10" x2="272.20" y2="100.10" stroke="#fff" stroke-width="0.45"/>
<line x1="152.00" y1="102.25" x2="272.20" y2="102.25" stroke="#fff" stroke-width="0.25"/>
<line x1="152.00" y1="104.40" x2="272.20" y2="104.40" stroke="#fff" stroke-width="0.45"/>
<line x1="152.00" y1="106.50" x2="272.20" y2="106.50" stroke="#fff" stroke-width="0.25"/>
<line x1="152.00" y1="108.60" x2="272.20" y2="108.60" stroke="#fff" stroke-width="0.45"/>
<line x1="152.00" y1="110.65" x2="272.20" y2="110.65" stroke="#fff" stroke-width="0.25"/>
<line x1="152.00" y1="112.70" x2="272.20" y2="112.70" stroke="#fff" stroke-width="0.45"/>
<polyline points="157.46,113.01 167.40,102.34 177.33,110.58 187.27,108.16 197.20,105.74 207.13,91.19 217.07,102.34 227.00,104.77 236.93,100.40 246.87,100.89 256.80,98.46 266.74,100.40" fill="none" stroke="#F3808F" stroke-width="1.1" stroke-dasharray="1.9,1.6"/>
<line x1="150.80" y1="91.50" x2="152.00" y2="91.50" stroke="#333" stroke-width="0.5"/>
<text x="0" y="0" transform="translate(149.60,93.05) scale(1.2,1)" text-anchor="end" class="a">36</text>
<line x1="150.80" y1="95.80" x2="152.00" y2="95.80" stroke="#333" stroke-width="0.5"/>
<text x="0" y="0" transform="translate(149.60,97.35) scale(1.2,1)" text-anchor="end" class="a">35</text>
<line x1="150.80" y1="100.10" x2="152.00" y2="100.10" stroke="#333" stroke-width="0.5"/>
<text x="0" y="0" transform="translate(149.60,101.65) scale(1.2,1)" text-anchor="end" class="a">34</text>
<line x1="150.80" y1="104.40" x2="152.00" y2="104.40" stroke="#333" stroke-width="0.5"/>
<text x="0" y="0" transform="translate(149.60,105.95) scale(1.2,1)" text-anchor="end" class="a">33</text>
<line x1="150.80" y1="108.60" x2="152.00" y2="108.60" stroke="#333" stroke-width="0.5"/>
<text x="0" y="0" transform="translate(149.60,110.15) scale(1.2,1)" text-anchor="end" class="a">32</text>
<line x1="150.80" y1="112.70" x2="152.00" y2="112.70" stroke="#333" stroke-width="0.5"/>
<text x="0" y="0" transform="translate(149.60,114.25) scale(1.2,1)" text-anchor="end" class="a">31</text>
<line x1="157.46" y1="114.10" x2="157.46" y2="115.30" stroke="#333" stroke-width="0.5"/>
<text x="0" y="0" transform="translate(157.46,118.20) scale(1.2,1)" text-anchor="middle" class="a">2001</text>
<line x1="177.33" y1="114.10" x2="177.33" y2="115.30" stroke="#333" stroke-width="0.5"/>
<text x="0" y="0" transform="translate(177.33,118.20) scale(1.2,1)" text-anchor="middle" class="a">2003</text>
<line x1="197.20" y1="114.10" x2="197.20" y2="115.30" stroke="#333" stroke-width="0.5"/>
<text x="0" y="0" transform="translate(197.20,118.20) scale(1.2,1)" text-anchor="middle" class="a">2005</text>
<line x1="217.07" y1="114.10" x2="217.07" y2="115.30" stroke="#333" stroke-width="0.5"/>
<text x="0" y="0" transform="translate(217.07,118.20) scale(1.2,1)" text-anchor="middle" class="a">2007</text>
<line x1="236.93" y1="114.10" x2="236.93" y2="115.30" stroke="#333" stroke-width="0.5"/>
<text x="0" y="0" transform="translate(236.93,118.20) scale(1.2,1)" text-anchor="middle" class="a">2009</text>
<line x1="256.80" y1="114.10" x2="256.80" y2="115.30" stroke="#333" stroke-width="0.5"/>
<text x="0" y="0" transform="translate(256.80,118.20) scale(1.2,1)" text-anchor="middle" class="a">2011</text>
<text x="0" y="0" transform="translate(152.00,88.70) scale(1.22,1)" class="t">Hungary</text>
<rect x="288.00" y="90.10" width="120.80" height="24.00" fill="#EBEBEB"/>
<line x1="303.47" y1="90.10" x2="303.47" y2="114.10" stroke="#fff" stroke-width="0.25"/>
<line x1="323.44" y1="90.10" x2="323.44" y2="114.10" stroke="#fff" stroke-width="0.25"/>
<line x1="343.41" y1="90.10" x2="343.41" y2="114.10" stroke="#fff" stroke-width="0.25"/>
<line x1="363.38" y1="90.10" x2="363.38" y2="114.10" stroke="#fff" stroke-width="0.25"/>
<line x1="383.34" y1="90.10" x2="383.34" y2="114.10" stroke="#fff" stroke-width="0.25"/>
<line x1="403.31" y1="90.10" x2="403.31" y2="114.10" stroke="#fff" stroke-width="0.25"/>
<line x1="293.49" y1="90.10" x2="293.49" y2="114.10" stroke="#fff" stroke-width="0.45"/>
<line x1="313.46" y1="90.10" x2="313.46" y2="114.10" stroke="#fff" stroke-width="0.45"/>
<line x1="333.42" y1="90.10" x2="333.42" y2="114.10" stroke="#fff" stroke-width="0.45"/>
<line x1="353.39" y1="90.10" x2="353.39" y2="114.10" stroke="#fff" stroke-width="0.45"/>
<line x1="373.36" y1="90.10" x2="373.36" y2="114.10" stroke="#fff" stroke-width="0.45"/>
<line x1="393.33" y1="90.10" x2="393.33" y2="114.10" stroke="#fff" stroke-width="0.45"/>
<line x1="288.00" y1="94.00" x2="408.80" y2="94.00" stroke="#fff" stroke-width="0.45"/>
<line x1="288.00" y1="97.05" x2="408.80" y2="97.05" stroke="#fff" stroke-width="0.25"/>
<line x1="288.00" y1="100.10" x2="408.80" y2="100.10" stroke="#fff" stroke-width="0.45"/>
<line x1="288.00" y1="103.30" x2="408.80" y2="103.30" stroke="#fff" stroke-width="0.25"/>
<line x1="288.00" y1="106.50" x2="408.80" y2="106.50" stroke="#fff" stroke-width="0.45"/>
<line x1="288.00" y1="109.60" x2="408.80" y2="109.60" stroke="#fff" stroke-width="0.25"/>
<line x1="288.00" y1="112.70" x2="408.80" y2="112.70" stroke="#fff" stroke-width="0.45"/>
<polyline points="293.49,113.01 303.47,112.52 313.46,112.52 323.44,112.52 333.42,112.28 343.41,112.04 353.39,110.58 363.38,106.22 373.36,102.10 383.34,91.19 393.33,103.31 403.31,105.25" fill="none" stroke="#F3808F" stroke-width="1.1" stroke-dasharray="1.9,1.6"/>
<line x1="286.80" y1="94.00" x2="288.00" y2="94.00" stroke="#333" stroke-width="0.5"/>
<text x="0" y="0" transform="translate(285.60,95.55) scale(1.2,1)" text-anchor="end" class="a">600</text>
<line x1="286.80" y1="100.10" x2="288.00" y2="100.10" stroke="#333" stroke-width="0.5"/>
<text x="0" y="0" transform="translate(285.60,101.65) scale(1.2,1)" text-anchor="end" class="a">500</text>
<line x1="286.80" y1="106.50" x2="288.00" y2="106.50" stroke="#333" stroke-width="0.5"/>
<text x="0" y="0" transform="translate(285.60,108.05) scale(1.2,1)" text-anchor="end" class="a">400</text>
<line x1="286.80" y1="112.70" x2="288.00" y2="112.70" stroke="#333" stroke-width="0.5"/>
<text x="0" y="0" transform="translate(285.60,114.25) scale(1.2,1)" text-anchor="end" class="a">300</text>
<line x1="293.49" y1="114.10" x2="293.49" y2="115.30" stroke="#333" stroke-width="0.5"/>
<text x="0" y="0" transform="translate(293.49,118.20) scale(1.2,1)" text-anchor="middle" class="a">2001</text>
<line x1="313.46" y1="114.10" x2="313.46" y2="115.30" stroke="#333" stroke-width="0.5"/>
<text x="0" y="0" transform="translate(313.46,118.20) scale(1.2,1)" text-anchor="middle" class="a">2003</text>
<line x1="333.42" y1="114.10" x2="333.42" y2="115.30" stroke="#333" stroke-width="0.5"/>
<text x="0" y="0" transform="translate(333.42,118.20) scale(1.2,1)" text-anchor="middle" class="a">2005</text>
<line x1="353.39" y1="114.10" x2="353.39" y2="115.30" stroke="#333" stroke-width="0.5"/>
<text x="0" y="0" transform="translate(353.39,118.20) scale(1.2,1)" text-anchor="middle" class="a">2007</text>
<line x1="373.36" y1="114.10" x2="373.36" y2="115.30" stroke="#333" stroke-width="0.5"/>
<text x="0" y="0" transform="translate(373.36,118.20) scale(1.2,1)" text-anchor="middle" class="a">2009</text>
<line x1="393.33" y1="114.10" x2="393.33" y2="115.30" stroke="#333" stroke-width="0.5"/>
<text x="0" y="0" transform="translate(393.33,118.20) scale(1.2,1)" text-anchor="middle" class="a">2011</text>
<text x="0" y="0" transform="translate(288.00,88.70) scale(1.22,1)" class="t">Ireland</text>
<rect x="428.70" y="90.10" width="116.30" height="24.00" fill="#EBEBEB"/>
<line x1="443.60" y1="90.10" x2="443.60" y2="114.10" stroke="#fff" stroke-width="0.25"/>
<line x1="462.82" y1="90.10" x2="462.82" y2="114.10" stroke="#fff" stroke-width="0.25"/>
<line x1="482.04" y1="90.10" x2="482.04" y2="114.10" stroke="#fff" stroke-width="0.25"/>
<line x1="501.27" y1="90.10" x2="501.27" y2="114.10" stroke="#fff" stroke-width="0.25"/>
<line x1="520.49" y1="90.10" x2="520.49" y2="114.10" stroke="#fff" stroke-width="0.25"/>
<line x1="539.71" y1="90.10" x2="539.71" y2="114.10" stroke="#fff" stroke-width="0.25"/>
<line x1="433.99" y1="90.10" x2="433.99" y2="114.10" stroke="#fff" stroke-width="0.45"/>
<line x1="453.21" y1="90.10" x2="453.21" y2="114.10" stroke="#fff" stroke-width="0.45"/>
<line x1="472.43" y1="90.10" x2="472.43" y2="114.10" stroke="#fff" stroke-width="0.45"/>
<line x1="491.66" y1="90.10" x2="491.66" y2="114.10" stroke="#fff" stroke-width="0.45"/>
<line x1="510.88" y1="90.10" x2="510.88" y2="114.10" stroke="#fff" stroke-width="0.45"/>
<line x1="530.10" y1="90.10" x2="530.10" y2="114.10" stroke="#fff" stroke-width="0.45"/>
<line x1="428.70" y1="93.80" x2="545.00" y2="93.80" stroke="#fff" stroke-width="0.45"/>
<line x1="428.70" y1="96.65" x2="545.00" y2="96.65" stroke="#fff" stroke-width="0.25"/>
<line x1="428.70" y1="99.50" x2="545.00" y2="99.50" stroke="#fff" stroke-width="0.45"/>
<line x1="428.70" y1="102.25" x2="545.00" y2="102.25" stroke="#fff" stroke-width="0.25"/>
<line x1="428.70" y1="105.00" x2="545.00" y2="105.00" stroke="#fff" stroke-width="0.45"/>
<line x1="428.70" y1="107.80" x2="545.00" y2="107.80" stroke="#fff" stroke-width="0.25"/>
<line x1="428.70" y1="110.60" x2="545.00" y2="110.60" stroke="#fff" stroke-width="0.45"/>
<polyline points="433.99,93.77 443.60,91.19 453.21,93.54 462.82,98.93 472.43,101.28 482.04,103.62 491.66,108.32 501.27,109.49 510.88,110.19 520.49,113.01 530.10,113.01 539.71,112.31" fill="none" stroke="#F3808F" stroke-width="1.1" stroke-dasharray="1.9,1.6"/>
<line x1="427.50" y1="93.80" x2="428.70" y2="93.80" stroke="#333" stroke-width="0.5"/>
<text x="0" y="0" transform="translate(426.30,95.35) scale(1.2,1)" text-anchor="end" class="a">45.0</text>
<line x1="427.50" y1="99.50" x2="428.70" y2="99.50" stroke="#333" stroke-width="0.5"/>
<text x="0" y="0" transform="translate(426.30,101.05) scale(1.2,1)" text-anchor="end" class="a">42.5</text>
<line x1="427.50" y1="105.00" x2="428.70" y2="105.00" stroke="#333" stroke-width="0.5"/>
<text x="0" y="0" transform="translate(426.30,106.55) scale(1.2,1)" text-anchor="end" class="a">40.0</text>
<line x1="427.50" y1="110.60" x2="428.70" y2="110.60" stroke="#333" stroke-width="0.5"/>
<text x="0" y="0" transform="translate(426.30,112.15) scale(1.2,1)" text-anchor="end" class="a">37.5</text>
<line x1="433.99" y1="114.10" x2="433.99" y2="115.30" stroke="#333" stroke-width="0.5"/>
<text x="0" y="0" transform="translate(433.99,118.20) scale(1.2,1)" text-anchor="middle" class="a">2001</text>
<line x1="453.21" y1="114.10" x2="453.21" y2="115.30" stroke="#333" stroke-width="0.5"/>
<text x="0" y="0" transform="translate(453.21,118.20) scale(1.2,1)" text-anchor="middle" class="a">2003</text>
<line x1="472.43" y1="114.10" x2="472.43" y2="115.30" stroke="#333" stroke-width="0.5"/>
<text x="0" y="0" transform="translate(472.43,118.20) scale(1.2,1)" text-anchor="middle" class="a">2005</text>
<line x1="491.66" y1="114.10" x2="491.66" y2="115.30" stroke="#333" stroke-width="0.5"/>
<text x="0" y="0" transform="translate(491.66,118.20) scale(1.2,1)" text-anchor="middle" class="a">2007</text>
<line x1="510.88" y1="114.10" x2="510.88" y2="115.30" stroke="#333" stroke-width="0.5"/>
<text x="0" y="0" transform="translate(510.88,118.20) scale(1.2,1)" text-anchor="middle" class="a">2009</text>
<line x1="530.10" y1="114.10" x2="530.10" y2="115.30" stroke="#333" stroke-width="0.5"/>
<text x="0" y="0" transform="translate(530.10,118.20) scale(1.2,1)" text-anchor="middle" class="a">2011</text>
<text x="0" y="0" transform="translate(428.70,88.70) scale(1.22,1)" class="t">Israel</text>
<rect x="15.10" y="130.00" width="119.90" height="24.00" fill="#EBEBEB"/>
<line x1="30.46" y1="130.00" x2="30.46" y2="154.00" stroke="#fff" stroke-width="0.25"/>
<line x1="50.28" y1="130.00" x2="50.28" y2="154.00" stroke="#fff" stroke-width="0.25"/>
<line x1="70.10" y1="130.00" x2="70.10" y2="154.00" stroke="#fff" stroke-width="0.25"/>
<line x1="89.91" y1="130.00" x2="89.91" y2="154.00" stroke="#fff" stroke-width="0.25"/>
<line x1="109.73" y1="130.00" x2="109.73" y2="154.00" stroke="#fff" stroke-width="0.25"/>
<line x1="129.55" y1="130.00" x2="129.55" y2="154.00" stroke="#fff" stroke-width="0.25"/>
<line x1="20.55" y1="130.00" x2="20.55" y2="154.00" stroke="#fff" stroke-width="0.45"/>
<line x1="40.37" y1="130.00" x2="40.37" y2="154.00" stroke="#fff" stroke-width="0.45"/>
<line x1="60.19" y1="130.00" x2="60.19" y2="154.00" stroke="#fff" stroke-width="0.45"/>
<line x1="80.00" y1="130.00" x2="80.00" y2="154.00" stroke="#fff" stroke-width="0.45"/>
<line x1="99.82" y1="130.00" x2="99.82" y2="154.00" stroke="#fff" stroke-width="0.45"/>
<line x1="119.64" y1="130.00" x2="119.64" y2="154.00" stroke="#fff" stroke-width="0.45"/>
<line x1="15.10" y1="131.20" x2="135.00" y2="131.20" stroke="#fff" stroke-width="0.45"/>
<line x1="15.10" y1="134.10" x2="135.00" y2="134.10" stroke="#fff" stroke-width="0.25"/>
<line x1="15.10" y1="137.00" x2="135.00" y2="137.00" stroke="#fff" stroke-width="0.45"/>
<line x1="15.10" y1="139.85" x2="135.00" y2="139.85" stroke="#fff" stroke-width="0.25"/>
<line x1="15.10" y1="142.70" x2="135.00" y2="142.70" stroke="#fff" stroke-width="0.45"/>
<line x1="15.10" y1="145.50" x2="135.00" y2="145.50" stroke="#fff" stroke-width="0.25"/>
<line x1="15.10" y1="148.30" x2="135.00" y2="148.30" stroke="#fff" stroke-width="0.45"/>
<polyline points="20.55,142.99 30.46,148.45 40.37,151.42 50.28,152.91 60.19,151.42 70.10,147.70 80.00,150.43 89.91,148.94 99.82,131.09 109.73,136.05 119.64,140.51 129.55,134.07" fill="none" stroke="#F3808F" stroke-width="1.1" stroke-dasharray="1.9,1.6"/>
<line x1="13.90" y1="131.20" x2="15.10" y2="131.20" stroke="#333" stroke-width="0.5"/>
<text x="0" y="0" transform="translate(12.70,132.75) scale(1.2,1)" text-anchor="end" class="a">30</text>
<line x1="13.90" y1="137.00" x2="15.10" y2="137.00" stroke="#333" stroke-width="0.5"/>
<text x="0" y="0" transform="translate(12.70,138.55) scale(1.2,1)" text-anchor="end" class="a">29</text>
<line x1="13.90" y1="142.70" x2="15.10" y2="142.70" stroke="#333" stroke-width="0.5"/>
<text x="0" y="0" transform="translate(12.70,144.25) scale(1.2,1)" text-anchor="end" class="a">28</text>
<line x1="13.90" y1="148.30" x2="15.10" y2="148.30" stroke="#333" stroke-width="0.5"/>
<text x="0" y="0" transform="translate(12.70,149.85) scale(1.2,1)" text-anchor="end" class="a">27</text>
<line x1="20.55" y1="154.00" x2="20.55" y2="155.20" stroke="#333" stroke-width="0.5"/>
<text x="0" y="0" transform="translate(20.55,158.10) scale(1.2,1)" text-anchor="middle" class="a">2001</text>
<line x1="40.37" y1="154.00" x2="40.37" y2="155.20" stroke="#333" stroke-width="0.5"/>
<text x="0" y="0" transform="translate(40.37,158.10) scale(1.2,1)" text-anchor="middle" class="a">2003</text>
<line x1="60.19" y1="154.00" x2="60.19" y2="155.20" stroke="#333" stroke-width="0.5"/>
<text x="0" y="0" transform="translate(60.19,158.10) scale(1.2,1)" text-anchor="middle" class="a">2005</text>
<line x1="80.00" y1="154.00" x2="80.00" y2="155.20" stroke="#333" stroke-width="0.5"/>
<text x="0" y="0" transform="translate(80.00,158.10) scale(1.2,1)" text-anchor="middle" class="a">2007</text>
<line x1="99.82" y1="154.00" x2="99.82" y2="155.20" stroke="#333" stroke-width="0.5"/>
<text x="0" y="0" transform="translate(99.82,158.10) scale(1.2,1)" text-anchor="middle" class="a">2009</text>
<line x1="119.64" y1="154.00" x2="119.64" y2="155.20" stroke="#333" stroke-width="0.5"/>
<text x="0" y="0" transform="translate(119.64,158.10) scale(1.2,1)" text-anchor="middle" class="a">2011</text>
<text x="0" y="0" transform="translate(15.10,128.60) scale(1.22,1)" class="t">Italy</text>
<rect x="152.00" y="130.00" width="120.20" height="24.00" fill="#EBEBEB"/>
<line x1="167.40" y1="130.00" x2="167.40" y2="154.00" stroke="#fff" stroke-width="0.25"/>
<line x1="187.27" y1="130.00" x2="187.27" y2="154.00" stroke="#fff" stroke-width="0.25"/>
<line x1="207.13" y1="130.00" x2="207.13" y2="154.00" stroke="#fff" stroke-width="0.25"/>
<line x1="227.00" y1="130.00" x2="227.00" y2="154.00" stroke="#fff" stroke-width="0.25"/>
<line x1="246.87" y1="130.00" x2="246.87" y2="154.00" stroke="#fff" stroke-width="0.25"/>
<line x1="266.74" y1="130.00" x2="266.74" y2="154.00" stroke="#fff" stroke-width="0.25"/>
<line x1="157.46" y1="130.00" x2="157.46" y2="154.00" stroke="#fff" stroke-width="0.45"/>
<line x1="177.33" y1="130.00" x2="177.33" y2="154.00" stroke="#fff" stroke-width="0.45"/>
<line x1="197.20" y1="130.00" x2="197.20" y2="154.00" stroke="#fff" stroke-width="0.45"/>
<line x1="217.07" y1="130.00" x2="217.07" y2="154.00" stroke="#fff" stroke-width="0.45"/>
<line x1="236.93" y1="130.00" x2="236.93" y2="154.00" stroke="#fff" stroke-width="0.45"/>
<line x1="256.80" y1="130.00" x2="256.80" y2="154.00" stroke="#fff" stroke-width="0.45"/>
<line x1="152.00" y1="131.90" x2="272.20" y2="131.90" stroke="#fff" stroke-width="0.45"/>
<line x1="152.00" y1="134.45" x2="272.20" y2="134.45" stroke="#fff" stroke-width="0.25"/>
<line x1="152.00" y1="137.00" x2="272.20" y2="137.00" stroke="#fff" stroke-width="0.45"/>
<line x1="152.00" y1="139.85" x2="272.20" y2="139.85" stroke="#fff" stroke-width="0.25"/>
<line x1="152.00" y1="142.70" x2="272.20" y2="142.70" stroke="#fff" stroke-width="0.45"/>
<line x1="152.00" y1="145.50" x2="272.20" y2="145.50" stroke="#fff" stroke-width="0.25"/>
<line x1="152.00" y1="148.30" x2="272.20" y2="148.30" stroke="#fff" stroke-width="0.45"/>
<polyline points="157.46,152.91 167.40,151.45 177.33,149.76 187.27,147.82 197.20,146.12 207.13,142.00 217.07,145.64 227.00,143.21 236.93,138.36 246.87,131.09 256.80,141.76 266.74,144.91" fill="none" stroke="#F3808F" stroke-width="1.1" stroke-dasharray="1.9,1.6"/>
<line x1="150.80" y1="131.90" x2="152.00" y2="131.90" stroke="#333" stroke-width="0.5"/>
<text x="0" y="0" transform="translate(149.60,133.45) scale(1.2,1)" text-anchor="end" class="a">26</text>
<line x1="150.80" y1="137.00" x2="152.00" y2="137.00" stroke="#333" stroke-width="0.5"/>
<text x="0" y="0" transform="translate(149.60,138.55) scale(1.2,1)" text-anchor="end" class="a">24</text>
<line x1="150.80" y1="142.70" x2="152.00" y2="142.70" stroke="#333" stroke-width="0.5"/>
<text x="0" y="0" transform="translate(149.60,144.25) scale(1.2,1)" text-anchor="end" class="a">22</text>
<line x1="150.80" y1="148.30" x2="152.00" y2="148.30" stroke="#333" stroke-width="0.5"/>
<text x="0" y="0" transform="translate(149.60,149.85) scale(1.2,1)" text-anchor="end" class="a">20</text>
<line x1="157.46" y1="154.00" x2="157.46" y2="155.20" stroke="#333" stroke-width="0.5"/>
<text x="0" y="0" transform="translate(157.46,158.10) scale(1.2,1)" text-anchor="middle" class="a">2001</text>
<line x1="177.33" y1="154.00" x2="177.33" y2="155.20" stroke="#333" stroke-width="0.5"/>
<text x="0" y="0" transform="translate(177.33,158.10) scale(1.2,1)" text-anchor="middle" class="a">2003</text>
<line x1="197.20" y1="154.00" x2="197.20" y2="155.20" stroke="#333" stroke-width="0.5"/>
<text x="0" y="0" transform="translate(197.20,158.10) scale(1.2,1)" text-anchor="middle" class="a">2005</text>
<line x1="217.07" y1="154.00" x2="217.07" y2="155.20" stroke="#333" stroke-width="0.5"/>
<text x="0" y="0" transform="translate(217.07,158.10) scale(1.2,1)" text-anchor="middle" class="a">2007</text>
<line x1="236.93" y1="154.00" x2="236.93" y2="155.20" stroke="#333" stroke-width="0.5"/>
<text x="0" y="0" transform="translate(236.93,158.10) scale(1.2,1)" text-anchor="middle" class="a">2009</text>
<line x1="256.80" y1="154.00" x2="256.80" y2="155.20" stroke="#333" stroke-width="0.5"/>
<text x="0" y="0" transform="translate(256.80,158.10) scale(1.2,1)" text-anchor="middle" class="a">2011</text>
<text x="0" y="0" transform="translate(152.00,128.60) scale(1.22,1)" class="t">Latvia</text>
<rect x="288.00" y="130.00" width="120.80" height="24.00" fill="#EBEBEB"/>
<line x1="303.47" y1="130.00" x2="303.47" y2="154.00" stroke="#fff" stroke-width="0.25"/>
<line x1="323.44" y1="130.00" x2="323.44" y2="154.00" stroke="#fff" stroke-width="0.25"/>
<line x1="343.41" y1="130.00" x2="343.41" y2="154.00" stroke="#fff" stroke-width="0.25"/>
<line x1="363.38" y1="130.00" x2="363.38" y2="154.00" stroke="#fff" stroke-width="0.25"/>
<line x1="383.34" y1="130.00" x2="383.34" y2="154.00" stroke="#fff" stroke-width="0.25"/>
<line x1="403.31" y1="130.00" x2="403.31" y2="154.00" stroke="#fff" stroke-width="0.25"/>
<line x1="293.49" y1="130.00" x2="293.49" y2="154.00" stroke="#fff" stroke-width="0.45"/>
<line x1="313.46" y1="130.00" x2="313.46" y2="154.00" stroke="#fff" stroke-width="0.45"/>
<line x1="333.42" y1="130.00" x2="333.42" y2="154.00" stroke="#fff" stroke-width="0.45"/>
<line x1="353.39" y1="130.00" x2="353.39" y2="154.00" stroke="#fff" stroke-width="0.45"/>
<line x1="373.36" y1="130.00" x2="373.36" y2="154.00" stroke="#fff" stroke-width="0.45"/>
<line x1="393.33" y1="130.00" x2="393.33" y2="154.00" stroke="#fff" stroke-width="0.45"/>
<line x1="288.00" y1="131.90" x2="408.80" y2="131.90" stroke="#fff" stroke-width="0.45"/>
<line x1="288.00" y1="135.40" x2="408.80" y2="135.40" stroke="#fff" stroke-width="0.25"/>
<line x1="288.00" y1="138.90" x2="408.80" y2="138.90" stroke="#fff" stroke-width="0.45"/>
<line x1="288.00" y1="142.45" x2="408.80" y2="142.45" stroke="#fff" stroke-width="0.25"/>
<line x1="288.00" y1="146.00" x2="408.80" y2="146.00" stroke="#fff" stroke-width="0.45"/>
<line x1="288.00" y1="149.30" x2="408.80" y2="149.30" stroke="#fff" stroke-width="0.25"/>
<line x1="288.00" y1="152.60" x2="408.80" y2="152.60" stroke="#fff" stroke-width="0.45"/>
<polyline points="293.49,152.91 303.47,142.95 313.46,139.39 323.44,137.02 333.42,137.73 343.41,141.76 353.39,147.22 363.38,142.95 373.36,131.09 383.34,132.99 393.33,135.83 403.31,132.28" fill="none" stroke="#F3808F" stroke-width="1.1" stroke-dasharray="1.9,1.6"/>
<line x1="286.80" y1="131.90" x2="288.00" y2="131.90" stroke="#333" stroke-width="0.5"/>
<text x="0" y="0" transform="translate(285.60,133.45) scale(1.2,1)" text-anchor="end" class="a">325</text>
<line x1="286.80" y1="138.90" x2="288.00" y2="138.90" stroke="#333" stroke-width="0.5"/>
<text x="0" y="0" transform="translate(285.60,140.45) scale(1.2,1)" text-anchor="end" class="a">300</text>
<line x1="286.80" y1="146.00" x2="288.00" y2="146.00" stroke="#333" stroke-width="0.5"/>
<text x="0" y="0" transform="translate(285.60,147.55) scale(1.2,1)" text-anchor="end" class="a">275</text>
<line x1="286.80" y1="152.60" x2="288.00" y2="152.60" stroke="#333" stroke-width="0.5"/>
<text x="0" y="0" transform="translate(285.60,154.15) scale(1.2,1)" text-anchor="end" class="a">250</text>
<line x1="293.49" y1="154.00" x2="293.49" y2="155.20" stroke="#333" stroke-width="0.5"/>
<text x="0" y="0" transform="translate(293.49,158.10) scale(1.2,1)" text-anchor="middle" class="a">2001</text>
<line x1="313.46" y1="154.00" x2="313.46" y2="155.20" stroke="#333" stroke-width="0.5"/>
<text x="0" y="0" transform="translate(313.46,158.10) scale(1.2,1)" text-anchor="middle" class="a">2003</text>
<line x1="333.42" y1="154.00" x2="333.42" y2="155.20" stroke="#333" stroke-width="0.5"/>
<text x="0" y="0" transform="translate(333.42,158.10) scale(1.2,1)" text-anchor="middle" class="a">2005</text>
<line x1="353.39" y1="154.00" x2="353.39" y2="155.20" stroke="#333" stroke-width="0.5"/>
<text x="0" y="0" transform="translate(353.39,158.10) scale(1.2,1)" text-anchor="middle" class="a">2007</text>
<line x1="373.36" y1="154.00" x2="373.36" y2="155.20" stroke="#333" stroke-width="0.5"/>
<text x="0" y="0" transform="translate(373.36,158.10) scale(1.2,1)" text-anchor="middle" class="a">2009</text>
<line x1="393.33" y1="154.00" x2="393.33" y2="155.20" stroke="#333" stroke-width="0.5"/>
<text x="0" y="0" transform="translate(393.33,158.10) scale(1.2,1)" text-anchor="middle" class="a">2011</text>
<text x="0" y="0" transform="translate(288.00,128.60) scale(1.22,1)" class="t">Luxembourg</text>
<rect x="425.00" y="130.00" width="120.00" height="24.00" fill="#EBEBEB"/>
<line x1="440.37" y1="130.00" x2="440.37" y2="154.00" stroke="#fff" stroke-width="0.25"/>
<line x1="460.21" y1="130.00" x2="460.21" y2="154.00" stroke="#fff" stroke-width="0.25"/>
<line x1="480.04" y1="130.00" x2="480.04" y2="154.00" stroke="#fff" stroke-width="0.25"/>
<line x1="499.88" y1="130.00" x2="499.88" y2="154.00" stroke="#fff" stroke-width="0.25"/>
<line x1="519.71" y1="130.00" x2="519.71" y2="154.00" stroke="#fff" stroke-width="0.25"/>
<line x1="539.55" y1="130.00" x2="539.55" y2="154.00" stroke="#fff" stroke-width="0.25"/>
<line x1="430.45" y1="130.00" x2="430.45" y2="154.00" stroke="#fff" stroke-width="0.45"/>
<line x1="450.29" y1="130.00" x2="450.29" y2="154.00" stroke="#fff" stroke-width="0.45"/>
<line x1="470.12" y1="130.00" x2="470.12" y2="154.00" stroke="#fff" stroke-width="0.45"/>
<line x1="489.96" y1="130.00" x2="489.96" y2="154.00" stroke="#fff" stroke-width="0.45"/>
<line x1="509.79" y1="130.00" x2="509.79" y2="154.00" stroke="#fff" stroke-width="0.45"/>
<line x1="529.63" y1="130.00" x2="529.63" y2="154.00" stroke="#fff" stroke-width="0.45"/>
<line x1="425.00" y1="134.80" x2="545.00" y2="134.80" stroke="#fff" stroke-width="0.45"/>
<line x1="425.00" y1="137.30" x2="545.00" y2="137.30" stroke="#fff" stroke-width="0.25"/>
<line x1="425.00" y1="139.80" x2="545.00" y2="139.80" stroke="#fff" stroke-width="0.45"/>
<line x1="425.00" y1="142.40" x2="545.00" y2="142.40" stroke="#fff" stroke-width="0.25"/>
<line x1="425.00" y1="145.00" x2="545.00" y2="145.00" stroke="#fff" stroke-width="0.45"/>
<line x1="425.00" y1="147.50" x2="545.00" y2="147.50" stroke="#fff" stroke-width="0.25"/>
<line x1="425.00" y1="150.00" x2="545.00" y2="150.00" stroke="#fff" stroke-width="0.45"/>
<polyline points="430.45,150.97 440.37,148.55 450.29,145.39 460.21,149.76 470.12,152.91 480.04,152.91 489.96,151.45 499.88,149.03 509.79,134.48 519.71,131.09 529.63,141.27 539.55,141.76" fill="none" stroke="#F3808F" stroke-width="1.1" stroke-dasharray="1.9,1.6"/>
<line x1="423.80" y1="134.80" x2="425.00" y2="134.80" stroke="#333" stroke-width="0.5"/>
<text x="0" y="0" transform="translate(422.60,136.35) scale(1.2,1)" text-anchor="end" class="a">29</text>
<line x1="423.80" y1="139.80" x2="425.00" y2="139.80" stroke="#333" stroke-width="0.5"/>
<text x="0" y="0" transform="translate(422.60,141.35) scale(1.2,1)" text-anchor="end" class="a">28</text>
<line x1="423.80" y1="145.00" x2="425.00" y2="145.00" stroke="#333" stroke-width="0.5"/>
<text x="0" y="0" transform="translate(422.60,146.55) scale(1.2,1)" text-anchor="end" class="a">27</text>
<line x1="423.80" y1="150.00" x2="425.00" y2="150.00" stroke="#333" stroke-width="0.5"/>
<text x="0" y="0" transform="translate(422.60,151.55) scale(1.2,1)" text-anchor="end" class="a">26</text>
<line x1="430.45" y1="154.00" x2="430.45" y2="155.20" stroke="#333" stroke-width="0.5"/>
<text x="0" y="0" transform="translate(430.45,158.10) scale(1.2,1)" text-anchor="middle" class="a">2001</text>
<line x1="450.29" y1="154.00" x2="450.29" y2="155.20" stroke="#333" stroke-width="0.5"/>
<text x="0" y="0" transform="translate(450.29,158.10) scale(1.2,1)" text-anchor="middle" class="a">2003</text>
<line x1="470.12" y1="154.00" x2="470.12" y2="155.20" stroke="#333" stroke-width="0.5"/>
<text x="0" y="0" transform="translate(470.12,158.10) scale(1.2,1)" text-anchor="middle" class="a">2005</text>
<line x1="489.96" y1="154.00" x2="489.96" y2="155.20" stroke="#333" stroke-width="0.5"/>
<text x="0" y="0" transform="translate(489.96,158.10) scale(1.2,1)" text-anchor="middle" class="a">2007</text>
<line x1="509.79" y1="154.00" x2="509.79" y2="155.20" stroke="#333" stroke-width="0.5"/>
<text x="0" y="0" transform="translate(509.79,158.10) scale(1.2,1)" text-anchor="middle" class="a">2009</text>
<line x1="529.63" y1="154.00" x2="529.63" y2="155.20" stroke="#333" stroke-width="0.5"/>
<text x="0" y="0" transform="translate(529.63,158.10) scale(1.2,1)" text-anchor="middle" class="a">2011</text>
<text x="0" y="0" transform="translate(425.00,128.60) scale(1.22,1)" class="t">Netherlands</text>
<rect x="15.10" y="169.90" width="119.90" height="24.00" fill="#EBEBEB"/>
<line x1="30.46" y1="169.90" x2="30.46" y2="193.90" stroke="#fff" stroke-width="0.25"/>
<line x1="50.28" y1="169.90" x2="50.28" y2="193.90" stroke="#fff" stroke-width="0.25"/>
<line x1="70.10" y1="169.90" x2="70.10" y2="193.90" stroke="#fff" stroke-width="0.25"/>
<line x1="89.91" y1="169.90" x2="89.91" y2="193.90" stroke="#fff" stroke-width="0.25"/>
<line x1="109.73" y1="169.90" x2="109.73" y2="193.90" stroke="#fff" stroke-width="0.25"/>
<line x1="129.55" y1="169.90" x2="129.55" y2="193.90" stroke="#fff" stroke-width="0.25"/>
<line x1="20.55" y1="169.90" x2="20.55" y2="193.90" stroke="#fff" stroke-width="0.45"/>
<line x1="40.37" y1="169.90" x2="40.37" y2="193.90" stroke="#fff" stroke-width="0.45"/>
<line x1="60.19" y1="169.90" x2="60.19" y2="193.90" stroke="#fff" stroke-width="0.45"/>
<line x1="80.00" y1="169.90" x2="80.00" y2="193.90" stroke="#fff" stroke-width="0.45"/>
<line x1="99.82" y1="169.90" x2="99.82" y2="193.90" stroke="#fff" stroke-width="0.45"/>
<line x1="119.64" y1="169.90" x2="119.64" y2="193.90" stroke="#fff" stroke-width="0.45"/>
<line x1="15.10" y1="174.50" x2="135.00" y2="174.50" stroke="#fff" stroke-width="0.45"/>
<line x1="15.10" y1="177.55" x2="135.00" y2="177.55" stroke="#fff" stroke-width="0.25"/>
<line x1="15.10" y1="180.60" x2="135.00" y2="180.60" stroke="#fff" stroke-width="0.45"/>
<line x1="15.10" y1="183.65" x2="135.00" y2="183.65" stroke="#fff" stroke-width="0.25"/>
<line x1="15.10" y1="186.70" x2="135.00" y2="186.70" stroke="#fff" stroke-width="0.45"/>
<line x1="15.10" y1="189.65" x2="135.00" y2="189.65" stroke="#fff" stroke-width="0.25"/>
<line x1="15.10" y1="192.60" x2="135.00" y2="192.60" stroke="#fff" stroke-width="0.45"/>
<polyline points="20.55,170.99 30.46,172.24 40.37,174.00 50.28,180.27 60.19,186.04 70.10,189.05 80.00,189.55 89.91,192.81 99.82,177.76 109.73,181.02 119.64,182.03 129.55,184.03" fill="none" stroke="#F3808F" stroke-width="1.1" stroke-dasharray="1.9,1.6"/>
<line x1="13.90" y1="174.50" x2="15.10" y2="174.50" stroke="#333" stroke-width="0.5"/>
<text x="0" y="0" transform="translate(12.70,176.05) scale(1.2,1)" text-anchor="end" class="a">3.6</text>
<line x1="13.90" y1="180.60" x2="15.10" y2="180.60" stroke="#333" stroke-width="0.5"/>
<text x="0" y="0" transform="translate(12.70,182.15) scale(1.2,1)" text-anchor="end" class="a">3.4</text>
<line x1="13.90" y1="186.70" x2="15.10" y2="186.70" stroke="#333" stroke-width="0.5"/>
<text x="0" y="0" transform="translate(12.70,188.25) scale(1.2,1)" text-anchor="end" class="a">3.2</text>
<line x1="13.90" y1="192.60" x2="15.10" y2="192.60" stroke="#333" stroke-width="0.5"/>
<text x="0" y="0" transform="translate(12.70,194.15) scale(1.2,1)" text-anchor="end" class="a">3.0</text>
<line x1="20.55" y1="193.90" x2="20.55" y2="195.10" stroke="#333" stroke-width="0.5"/>
<text x="0" y="0" transform="translate(20.55,198.00) scale(1.2,1)" text-anchor="middle" class="a">2001</text>
<line x1="40.37" y1="193.90" x2="40.37" y2="195.10" stroke="#333" stroke-width="0.5"/>
<text x="0" y="0" transform="translate(40.37,198.00) scale(1.2,1)" text-anchor="middle" class="a">2003</text>
<line x1="60.19" y1="193.90" x2="60.19" y2="195.10" stroke="#333" stroke-width="0.5"/>
<text x="0" y="0" transform="translate(60.19,198.00) scale(1.2,1)" text-anchor="middle" class="a">2005</text>
<line x1="80.00" y1="193.90" x2="80.00" y2="195.10" stroke="#333" stroke-width="0.5"/>
<text x="0" y="0" transform="translate(80.00,198.00) scale(1.2,1)" text-anchor="middle" class="a">2007</text>
<line x1="99.82" y1="193.90" x2="99.82" y2="195.10" stroke="#333" stroke-width="0.5"/>
<text x="0" y="0" transform="translate(99.82,198.00) scale(1.2,1)" text-anchor="middle" class="a">2009</text>
<line x1="119.64" y1="193.90" x2="119.64" y2="195.10" stroke="#333" stroke-width="0.5"/>
<text x="0" y="0" transform="translate(119.64,198.00) scale(1.2,1)" text-anchor="middle" class="a">2011</text>
<text x="0" y="0" transform="translate(15.10,168.50) scale(1.22,1)" class="t">Norway</text>
<rect x="152.00" y="169.90" width="120.20" height="24.00" fill="#EBEBEB"/>
<line x1="167.40" y1="169.90" x2="167.40" y2="193.90" stroke="#fff" stroke-width="0.25"/>
<line x1="187.27" y1="169.90" x2="187.27" y2="193.90" stroke="#fff" stroke-width="0.25"/>
<line x1="207.13" y1="169.90" x2="207.13" y2="193.90" stroke="#fff" stroke-width="0.25"/>
<line x1="227.00" y1="169.90" x2="227.00" y2="193.90" stroke="#fff" stroke-width="0.25"/>
<line x1="246.87" y1="169.90" x2="246.87" y2="193.90" stroke="#fff" stroke-width="0.25"/>
<line x1="266.74" y1="169.90" x2="266.74" y2="193.90" stroke="#fff" stroke-width="0.25"/>
<line x1="157.46" y1="169.90" x2="157.46" y2="193.90" stroke="#fff" stroke-width="0.45"/>
<line x1="177.33" y1="169.90" x2="177.33" y2="193.90" stroke="#fff" stroke-width="0.45"/>
<line x1="197.20" y1="169.90" x2="197.20" y2="193.90" stroke="#fff" stroke-width="0.45"/>
<line x1="217.07" y1="169.90" x2="217.07" y2="193.90" stroke="#fff" stroke-width="0.45"/>
<line x1="236.93" y1="169.90" x2="236.93" y2="193.90" stroke="#fff" stroke-width="0.45"/>
<line x1="256.80" y1="169.90" x2="256.80" y2="193.90" stroke="#fff" stroke-width="0.45"/>
<line x1="152.00" y1="170.70" x2="272.20" y2="170.70" stroke="#fff" stroke-width="0.45"/>
<line x1="152.00" y1="174.00" x2="272.20" y2="174.00" stroke="#fff" stroke-width="0.25"/>
<line x1="152.00" y1="177.30" x2="272.20" y2="177.30" stroke="#fff" stroke-width="0.45"/>
<line x1="152.00" y1="180.85" x2="272.20" y2="180.85" stroke="#fff" stroke-width="0.25"/>
<line x1="152.00" y1="184.40" x2="272.20" y2="184.40" stroke="#fff" stroke-width="0.45"/>
<line x1="152.00" y1="187.85" x2="272.20" y2="187.85" stroke="#fff" stroke-width="0.25"/>
<line x1="152.00" y1="191.30" x2="272.20" y2="191.30" stroke="#fff" stroke-width="0.45"/>
<polyline points="157.46,181.10 167.40,180.30 177.33,170.99 187.27,185.63 197.20,188.82 207.13,186.42 217.07,188.29 227.00,182.96 236.93,184.29 246.87,173.12 256.80,186.96 266.74,192.81" fill="none" stroke="#F3808F" stroke-width="1.1" stroke-dasharray="1.9,1.6"/>
<line x1="150.80" y1="170.70" x2="152.00" y2="170.70" stroke="#333" stroke-width="0.5"/>
<text x="0" y="0" transform="translate(149.60,172.25) scale(1.2,1)" text-anchor="end" class="a">28</text>
<line x1="150.80" y1="177.30" x2="152.00" y2="177.30" stroke="#333" stroke-width="0.5"/>
<text x="0" y="0" transform="translate(149.60,178.85) scale(1.2,1)" text-anchor="end" class="a">27</text>
<line x1="150.80" y1="184.40" x2="152.00" y2="184.40" stroke="#333" stroke-width="0.5"/>
<text x="0" y="0" transform="translate(149.60,185.95) scale(1.2,1)" text-anchor="end" class="a">26</text>
<line x1="150.80" y1="191.30" x2="152.00" y2="191.30" stroke="#333" stroke-width="0.5"/>
<text x="0" y="0" transform="translate(149.60,192.85) scale(1.2,1)" text-anchor="end" class="a">25</text>
<line x1="157.46" y1="193.90" x2="157.46" y2="195.10" stroke="#333" stroke-width="0.5"/>
<text x="0" y="0" transform="translate(157.46,198.00) scale(1.2,1)" text-anchor="middle" class="a">2001</text>
<line x1="177.33" y1="193.90" x2="177.33" y2="195.10" stroke="#333" stroke-width="0.5"/>
<text x="0" y="0" transform="translate(177.33,198.00) scale(1.2,1)" text-anchor="middle" class="a">2003</text>
<line x1="197.20" y1="193.90" x2="197.20" y2="195.10" stroke="#333" stroke-width="0.5"/>
<text x="0" y="0" transform="translate(197.20,198.00) scale(1.2,1)" text-anchor="middle" class="a">2005</text>
<line x1="217.07" y1="193.90" x2="217.07" y2="195.10" stroke="#333" stroke-width="0.5"/>
<text x="0" y="0" transform="translate(217.07,198.00) scale(1.2,1)" text-anchor="middle" class="a">2007</text>
<line x1="236.93" y1="193.90" x2="236.93" y2="195.10" stroke="#333" stroke-width="0.5"/>
<text x="0" y="0" transform="translate(236.93,198.00) scale(1.2,1)" text-anchor="middle" class="a">2009</text>
<line x1="256.80" y1="193.90" x2="256.80" y2="195.10" stroke="#333" stroke-width="0.5"/>
<text x="0" y="0" transform="translate(256.80,198.00) scale(1.2,1)" text-anchor="middle" class="a">2011</text>
<text x="0" y="0" transform="translate(152.00,168.50) scale(1.22,1)" class="t">Poland</text>
<rect x="288.00" y="169.90" width="120.80" height="24.00" fill="#EBEBEB"/>
<line x1="303.47" y1="169.90" x2="303.47" y2="193.90" stroke="#fff" stroke-width="0.25"/>
<line x1="323.44" y1="169.90" x2="323.44" y2="193.90" stroke="#fff" stroke-width="0.25"/>
<line x1="343.41" y1="169.90" x2="343.41" y2="193.90" stroke="#fff" stroke-width="0.25"/>
<line x1="363.38" y1="169.90" x2="363.38" y2="193.90" stroke="#fff" stroke-width="0.25"/>
<line x1="383.34" y1="169.90" x2="383.34" y2="193.90" stroke="#fff" stroke-width="0.25"/>
<line x1="403.31" y1="169.90" x2="403.31" y2="193.90" stroke="#fff" stroke-width="0.25"/>
<line x1="293.49" y1="169.90" x2="293.49" y2="193.90" stroke="#fff" stroke-width="0.45"/>
<line x1="313.46" y1="169.90" x2="313.46" y2="193.90" stroke="#fff" stroke-width="0.45"/>
<line x1="333.42" y1="169.90" x2="333.42" y2="193.90" stroke="#fff" stroke-width="0.45"/>
<line x1="353.39" y1="169.90" x2="353.39" y2="193.90" stroke="#fff" stroke-width="0.45"/>
<line x1="373.36" y1="169.90" x2="373.36" y2="193.90" stroke="#fff" stroke-width="0.45"/>
<line x1="393.33" y1="169.90" x2="393.33" y2="193.90" stroke="#fff" stroke-width="0.45"/>
<line x1="288.00" y1="174.80" x2="408.80" y2="174.80" stroke="#fff" stroke-width="0.45"/>
<line x1="288.00" y1="178.10" x2="408.80" y2="178.10" stroke="#fff" stroke-width="0.25"/>
<line x1="288.00" y1="181.40" x2="408.80" y2="181.40" stroke="#fff" stroke-width="0.45"/>
<line x1="288.00" y1="184.85" x2="408.80" y2="184.85" stroke="#fff" stroke-width="0.25"/>
<line x1="288.00" y1="188.30" x2="408.80" y2="188.30" stroke="#fff" stroke-width="0.45"/>
<polyline points="293.49,191.32 303.47,192.81 313.46,188.84 323.44,186.36 333.42,183.39 343.41,187.85 353.39,191.32 363.38,189.59 373.36,177.93 383.34,170.99 393.33,177.93 403.31,180.91" fill="none" stroke="#F3808F" stroke-width="1.1" stroke-dasharray="1.9,1.6"/>
<line x1="286.80" y1="174.80" x2="288.00" y2="174.80" stroke="#333" stroke-width="0.5"/>
<text x="0" y="0" transform="translate(285.60,176.35) scale(1.2,1)" text-anchor="end" class="a">340</text>
<line x1="286.80" y1="181.40" x2="288.00" y2="181.40" stroke="#333" stroke-width="0.5"/>
<text x="0" y="0" transform="translate(285.60,182.95) scale(1.2,1)" text-anchor="end" class="a">320</text>
<line x1="286.80" y1="188.30" x2="288.00" y2="188.30" stroke="#333" stroke-width="0.5"/>
<text x="0" y="0" transform="translate(285.60,189.85) scale(1.2,1)" text-anchor="end" class="a">300</text>
<line x1="293.49" y1="193.90" x2="293.49" y2="195.10" stroke="#333" stroke-width="0.5"/>
<text x="0" y="0" transform="translate(293.49,198.00) scale(1.2,1)" text-anchor="middle" class="a">2001</text>
<line x1="313.46" y1="193.90" x2="313.46" y2="195.10" stroke="#333" stroke-width="0.5"/>
<text x="0" y="0" transform="translate(313.46,198.00) scale(1.2,1)" text-anchor="middle" class="a">2003</text>
<line x1="333.42" y1="193.90" x2="333.42" y2="195.10" stroke="#333" stroke-width="0.5"/>
<text x="0" y="0" transform="translate(333.42,198.00) scale(1.2,1)" text-anchor="middle" class="a">2005</text>
<line x1="353.39" y1="193.90" x2="353.39" y2="195.10" stroke="#333" stroke-width="0.5"/>
<text x="0" y="0" transform="translate(353.39,198.00) scale(1.2,1)" text-anchor="middle" class="a">2007</text>
<line x1="373.36" y1="193.90" x2="373.36" y2="195.10" stroke="#333" stroke-width="0.5"/>
<text x="0" y="0" transform="translate(373.36,198.00) scale(1.2,1)" text-anchor="middle" class="a">2009</text>
<line x1="393.33" y1="193.90" x2="393.33" y2="195.10" stroke="#333" stroke-width="0.5"/>
<text x="0" y="0" transform="translate(393.33,198.00) scale(1.2,1)" text-anchor="middle" class="a">2011</text>
<text x="0" y="0" transform="translate(288.00,168.50) scale(1.22,1)" class="t">Portugal</text>
<rect x="425.00" y="169.90" width="120.00" height="24.00" fill="#EBEBEB"/>
<line x1="440.37" y1="169.90" x2="440.37" y2="193.90" stroke="#fff" stroke-width="0.25"/>
<line x1="460.21" y1="169.90" x2="460.21" y2="193.90" stroke="#fff" stroke-width="0.25"/>
<line x1="480.04" y1="169.90" x2="480.04" y2="193.90" stroke="#fff" stroke-width="0.25"/>
<line x1="499.88" y1="169.90" x2="499.88" y2="193.90" stroke="#fff" stroke-width="0.25"/>
<line x1="519.71" y1="169.90" x2="519.71" y2="193.90" stroke="#fff" stroke-width="0.25"/>
<line x1="539.55" y1="169.90" x2="539.55" y2="193.90" stroke="#fff" stroke-width="0.25"/>
<line x1="430.45" y1="169.90" x2="430.45" y2="193.90" stroke="#fff" stroke-width="0.45"/>
<line x1="450.29" y1="169.90" x2="450.29" y2="193.90" stroke="#fff" stroke-width="0.45"/>
<line x1="470.12" y1="169.90" x2="470.12" y2="193.90" stroke="#fff" stroke-width="0.45"/>
<line x1="489.96" y1="169.90" x2="489.96" y2="193.90" stroke="#fff" stroke-width="0.45"/>
<line x1="509.79" y1="169.90" x2="509.79" y2="193.90" stroke="#fff" stroke-width="0.45"/>
<line x1="529.63" y1="169.90" x2="529.63" y2="193.90" stroke="#fff" stroke-width="0.45"/>
<line x1="425.00" y1="171.90" x2="545.00" y2="171.90" stroke="#fff" stroke-width="0.45"/>
<line x1="425.00" y1="175.40" x2="545.00" y2="175.40" stroke="#fff" stroke-width="0.25"/>
<line x1="425.00" y1="178.90" x2="545.00" y2="178.90" stroke="#fff" stroke-width="0.45"/>
<line x1="425.00" y1="182.60" x2="545.00" y2="182.60" stroke="#fff" stroke-width="0.25"/>
<line x1="425.00" y1="186.30" x2="545.00" y2="186.30" stroke="#fff" stroke-width="0.45"/>
<line x1="425.00" y1="190.00" x2="545.00" y2="190.00" stroke="#fff" stroke-width="0.25"/>
<line x1="425.00" y1="193.70" x2="545.00" y2="193.70" stroke="#fff" stroke-width="0.45"/>
<polyline points="430.45,177.93 440.37,181.40 450.29,180.41 460.21,181.40 470.12,180.41 480.04,185.37 489.96,192.81 499.88,187.11 509.79,176.45 519.71,175.95 529.63,170.99 539.55,178.43" fill="none" stroke="#F3808F" stroke-width="1.1" stroke-dasharray="1.9,1.6"/>
<line x1="423.80" y1="171.90" x2="425.00" y2="171.90" stroke="#333" stroke-width="0.5"/>
<text x="0" y="0" transform="translate(422.60,173.45) scale(1.2,1)" text-anchor="end" class="a">3.2</text>
<line x1="423.80" y1="178.90" x2="425.00" y2="178.90" stroke="#333" stroke-width="0.5"/>
<text x="0" y="0" transform="translate(422.60,180.45) scale(1.2,1)" text-anchor="end" class="a">3.0</text>
<line x1="423.80" y1="186.30" x2="425.00" y2="186.30" stroke="#333" stroke-width="0.5"/>
<text x="0" y="0" transform="translate(422.60,187.85) scale(1.2,1)" text-anchor="end" class="a">2.8</text>
<line x1="423.80" y1="193.70" x2="425.00" y2="193.70" stroke="#333" stroke-width="0.5"/>
<text x="0" y="0" transform="translate(422.60,195.25) scale(1.2,1)" text-anchor="end" class="a">2.6</text>
<line x1="430.45" y1="193.90" x2="430.45" y2="195.10" stroke="#333" stroke-width="0.5"/>
<text x="0" y="0" transform="translate(430.45,198.00) scale(1.2,1)" text-anchor="middle" class="a">2001</text>
<line x1="450.29" y1="193.90" x2="450.29" y2="195.10" stroke="#333" stroke-width="0.5"/>
<text x="0" y="0" transform="translate(450.29,198.00) scale(1.2,1)" text-anchor="middle" class="a">2003</text>
<line x1="470.12" y1="193.90" x2="470.12" y2="195.10" stroke="#333" stroke-width="0.5"/>
<text x="0" y="0" transform="translate(470.12,198.00) scale(1.2,1)" text-anchor="middle" class="a">2005</text>
<line x1="489.96" y1="193.90" x2="489.96" y2="195.10" stroke="#333" stroke-width="0.5"/>
<text x="0" y="0" transform="translate(489.96,198.00) scale(1.2,1)" text-anchor="middle" class="a">2007</text>
<line x1="509.79" y1="193.90" x2="509.79" y2="195.10" stroke="#333" stroke-width="0.5"/>
<text x="0" y="0" transform="translate(509.79,198.00) scale(1.2,1)" text-anchor="middle" class="a">2009</text>
<line x1="529.63" y1="193.90" x2="529.63" y2="195.10" stroke="#333" stroke-width="0.5"/>
<text x="0" y="0" transform="translate(529.63,198.00) scale(1.2,1)" text-anchor="middle" class="a">2011</text>
<text x="0" y="0" transform="translate(425.00,168.50) scale(1.22,1)" class="t">Slovenia</text>
<rect x="14.80" y="209.80" width="120.20" height="24.00" fill="#EBEBEB"/>
<line x1="30.20" y1="209.80" x2="30.20" y2="233.80" stroke="#fff" stroke-width="0.25"/>
<line x1="50.07" y1="209.80" x2="50.07" y2="233.80" stroke="#fff" stroke-width="0.25"/>
<line x1="69.93" y1="209.80" x2="69.93" y2="233.80" stroke="#fff" stroke-width="0.25"/>
<line x1="89.80" y1="209.80" x2="89.80" y2="233.80" stroke="#fff" stroke-width="0.25"/>
<line x1="109.67" y1="209.80" x2="109.67" y2="233.80" stroke="#fff" stroke-width="0.25"/>
<line x1="129.54" y1="209.80" x2="129.54" y2="233.80" stroke="#fff" stroke-width="0.25"/>
<line x1="20.26" y1="209.80" x2="20.26" y2="233.80" stroke="#fff" stroke-width="0.45"/>
<line x1="40.13" y1="209.80" x2="40.13" y2="233.80" stroke="#fff" stroke-width="0.45"/>
<line x1="60.00" y1="209.80" x2="60.00" y2="233.80" stroke="#fff" stroke-width="0.45"/>
<line x1="79.87" y1="209.80" x2="79.87" y2="233.80" stroke="#fff" stroke-width="0.45"/>
<line x1="99.73" y1="209.80" x2="99.73" y2="233.80" stroke="#fff" stroke-width="0.45"/>
<line x1="119.60" y1="209.80" x2="119.60" y2="233.80" stroke="#fff" stroke-width="0.45"/>
<line x1="14.80" y1="215.10" x2="135.00" y2="215.10" stroke="#fff" stroke-width="0.45"/>
<line x1="14.80" y1="217.85" x2="135.00" y2="217.85" stroke="#fff" stroke-width="0.25"/>
<line x1="14.80" y1="220.60" x2="135.00" y2="220.60" stroke="#fff" stroke-width="0.45"/>
<line x1="14.80" y1="223.20" x2="135.00" y2="223.20" stroke="#fff" stroke-width="0.25"/>
<line x1="14.80" y1="225.80" x2="135.00" y2="225.80" stroke="#fff" stroke-width="0.45"/>
<line x1="14.80" y1="228.40" x2="135.00" y2="228.40" stroke="#fff" stroke-width="0.25"/>
<line x1="14.80" y1="231.00" x2="135.00" y2="231.00" stroke="#fff" stroke-width="0.45"/>
<polyline points="20.26,225.77 30.20,228.74 40.13,230.73 50.07,229.49 60.00,232.71 69.93,232.21 79.87,231.22 89.80,229.49 99.73,218.82 109.67,223.29 119.60,225.27 129.54,210.89" fill="none" stroke="#F3808F" stroke-width="1.1" stroke-dasharray="1.9,1.6"/>
<line x1="13.60" y1="215.10" x2="14.80" y2="215.10" stroke="#333" stroke-width="0.5"/>
<text x="0" y="0" transform="translate(12.40,216.65) scale(1.2,1)" text-anchor="end" class="a">2.3</text>
<line x1="13.60" y1="220.60" x2="14.80" y2="220.60" stroke="#333" stroke-width="0.5"/>
<text x="0" y="0" transform="translate(12.40,222.15) scale(1.2,1)" text-anchor="end" class="a">2.2</text>
<line x1="13.60" y1="225.80" x2="14.80" y2="225.80" stroke="#333" stroke-width="0.5"/>
<text x="0" y="0" transform="translate(12.40,227.35) scale(1.2,1)" text-anchor="end" class="a">2.1</text>
<line x1="13.60" y1="231.00" x2="14.80" y2="231.00" stroke="#333" stroke-width="0.5"/>
<text x="0" y="0" transform="translate(12.40,232.55) scale(1.2,1)" text-anchor="end" class="a">2.0</text>
<line x1="20.26" y1="233.80" x2="20.26" y2="235.00" stroke="#333" stroke-width="0.5"/>
<text x="0" y="0" transform="translate(20.26,237.90) scale(1.2,1)" text-anchor="middle" class="a">2001</text>
<line x1="40.13" y1="233.80" x2="40.13" y2="235.00" stroke="#333" stroke-width="0.5"/>
<text x="0" y="0" transform="translate(40.13,237.90) scale(1.2,1)" text-anchor="middle" class="a">2003</text>
<line x1="60.00" y1="233.80" x2="60.00" y2="235.00" stroke="#333" stroke-width="0.5"/>
<text x="0" y="0" transform="translate(60.00,237.90) scale(1.2,1)" text-anchor="middle" class="a">2005</text>
<line x1="79.87" y1="233.80" x2="79.87" y2="235.00" stroke="#333" stroke-width="0.5"/>
<text x="0" y="0" transform="translate(79.87,237.90) scale(1.2,1)" text-anchor="middle" class="a">2007</text>
<line x1="99.73" y1="233.80" x2="99.73" y2="235.00" stroke="#333" stroke-width="0.5"/>
<text x="0" y="0" transform="translate(99.73,237.90) scale(1.2,1)" text-anchor="middle" class="a">2009</text>
<line x1="119.60" y1="233.80" x2="119.60" y2="235.00" stroke="#333" stroke-width="0.5"/>
<text x="0" y="0" transform="translate(119.60,237.90) scale(1.2,1)" text-anchor="middle" class="a">2011</text>
<text x="0" y="0" transform="translate(14.80,208.40) scale(1.22,1)" class="t">Spain</text>
<rect x="155.10" y="209.80" width="117.10" height="24.00" fill="#EBEBEB"/>
<line x1="170.10" y1="209.80" x2="170.10" y2="233.80" stroke="#fff" stroke-width="0.25"/>
<line x1="189.46" y1="209.80" x2="189.46" y2="233.80" stroke="#fff" stroke-width="0.25"/>
<line x1="208.81" y1="209.80" x2="208.81" y2="233.80" stroke="#fff" stroke-width="0.25"/>
<line x1="228.17" y1="209.80" x2="228.17" y2="233.80" stroke="#fff" stroke-width="0.25"/>
<line x1="247.52" y1="209.80" x2="247.52" y2="233.80" stroke="#fff" stroke-width="0.25"/>
<line x1="266.88" y1="209.80" x2="266.88" y2="233.80" stroke="#fff" stroke-width="0.25"/>
<line x1="160.42" y1="209.80" x2="160.42" y2="233.80" stroke="#fff" stroke-width="0.45"/>
<line x1="179.78" y1="209.80" x2="179.78" y2="233.80" stroke="#fff" stroke-width="0.45"/>
<line x1="199.13" y1="209.80" x2="199.13" y2="233.80" stroke="#fff" stroke-width="0.45"/>
<line x1="218.49" y1="209.80" x2="218.49" y2="233.80" stroke="#fff" stroke-width="0.45"/>
<line x1="237.84" y1="209.80" x2="237.84" y2="233.80" stroke="#fff" stroke-width="0.45"/>
<line x1="257.20" y1="209.80" x2="257.20" y2="233.80" stroke="#fff" stroke-width="0.45"/>
<line x1="155.10" y1="212.30" x2="272.20" y2="212.30" stroke="#fff" stroke-width="0.45"/>
<line x1="155.10" y1="214.55" x2="272.20" y2="214.55" stroke="#fff" stroke-width="0.25"/>
<line x1="155.10" y1="216.80" x2="272.20" y2="216.80" stroke="#fff" stroke-width="0.45"/>
<line x1="155.10" y1="218.95" x2="272.20" y2="218.95" stroke="#fff" stroke-width="0.25"/>
<line x1="155.10" y1="221.10" x2="272.20" y2="221.10" stroke="#fff" stroke-width="0.45"/>
<line x1="155.10" y1="223.30" x2="272.20" y2="223.30" stroke="#fff" stroke-width="0.25"/>
<line x1="155.10" y1="225.50" x2="272.20" y2="225.50" stroke="#fff" stroke-width="0.45"/>
<line x1="155.10" y1="227.75" x2="272.20" y2="227.75" stroke="#fff" stroke-width="0.25"/>
<line x1="155.10" y1="230.00" x2="272.20" y2="230.00" stroke="#fff" stroke-width="0.45"/>
<polyline points="160.42,221.56 170.10,213.32 179.78,210.89 189.46,221.07 199.13,215.01 208.81,222.28 218.49,229.56 228.17,232.71 237.84,216.71 247.52,219.13 257.20,225.44 266.88,223.98" fill="none" stroke="#F3808F" stroke-width="1.1" stroke-dasharray="1.9,1.6"/>
<line x1="153.90" y1="212.30" x2="155.10" y2="212.30" stroke="#333" stroke-width="0.5"/>
<text x="0" y="0" transform="translate(152.70,213.85) scale(1.2,1)" text-anchor="end" class="a">32.0</text>
<line x1="153.90" y1="216.80" x2="155.10" y2="216.80" stroke="#333" stroke-width="0.5"/>
<text x="0" y="0" transform="translate(152.70,218.35) scale(1.2,1)" text-anchor="end" class="a">31.5</text>
<line x1="153.90" y1="221.10" x2="155.10" y2="221.10" stroke="#333" stroke-width="0.5"/>
<text x="0" y="0" transform="translate(152.70,222.65) scale(1.2,1)" text-anchor="end" class="a">31.0</text>
<line x1="153.90" y1="225.50" x2="155.10" y2="225.50" stroke="#333" stroke-width="0.5"/>
<text x="0" y="0" transform="translate(152.70,227.05) scale(1.2,1)" text-anchor="end" class="a">30.5</text>
<line x1="153.90" y1="230.00" x2="155.10" y2="230.00" stroke="#333" stroke-width="0.5"/>
<text x="0" y="0" transform="translate(152.70,231.55) scale(1.2,1)" text-anchor="end" class="a">30.0</text>
<line x1="160.42" y1="233.80" x2="160.42" y2="235.00" stroke="#333" stroke-width="0.5"/>
<text x="0" y="0" transform="translate(160.42,237.90) scale(1.2,1)" text-anchor="middle" class="a">2001</text>
<line x1="179.78" y1="233.80" x2="179.78" y2="235.00" stroke="#333" stroke-width="0.5"/>
<text x="0" y="0" transform="translate(179.78,237.90) scale(1.2,1)" text-anchor="middle" class="a">2003</text>
<line x1="199.13" y1="233.80" x2="199.13" y2="235.00" stroke="#333" stroke-width="0.5"/>
<text x="0" y="0" transform="translate(199.13,237.90) scale(1.2,1)" text-anchor="middle" class="a">2005</text>
<line x1="218.49" y1="233.80" x2="218.49" y2="235.00" stroke="#333" stroke-width="0.5"/>
<text x="0" y="0" transform="translate(218.49,237.90) scale(1.2,1)" text-anchor="middle" class="a">2007</text>
<line x1="237.84" y1="233.80" x2="237.84" y2="235.00" stroke="#333" stroke-width="0.5"/>
<text x="0" y="0" transform="translate(237.84,237.90) scale(1.2,1)" text-anchor="middle" class="a">2009</text>
<line x1="257.20" y1="233.80" x2="257.20" y2="235.00" stroke="#333" stroke-width="0.5"/>
<text x="0" y="0" transform="translate(257.20,237.90) scale(1.2,1)" text-anchor="middle" class="a">2011</text>
<text x="0" y="0" transform="translate(155.10,208.40) scale(1.22,1)" class="t">Sweden</text>
<rect x="291.80" y="209.80" width="117.00" height="24.00" fill="#EBEBEB"/>
<line x1="306.79" y1="209.80" x2="306.79" y2="233.80" stroke="#fff" stroke-width="0.25"/>
<line x1="326.13" y1="209.80" x2="326.13" y2="233.80" stroke="#fff" stroke-width="0.25"/>
<line x1="345.47" y1="209.80" x2="345.47" y2="233.80" stroke="#fff" stroke-width="0.25"/>
<line x1="364.80" y1="209.80" x2="364.80" y2="233.80" stroke="#fff" stroke-width="0.25"/>
<line x1="384.14" y1="209.80" x2="384.14" y2="233.80" stroke="#fff" stroke-width="0.25"/>
<line x1="403.48" y1="209.80" x2="403.48" y2="233.80" stroke="#fff" stroke-width="0.25"/>
<line x1="297.12" y1="209.80" x2="297.12" y2="233.80" stroke="#fff" stroke-width="0.45"/>
<line x1="316.46" y1="209.80" x2="316.46" y2="233.80" stroke="#fff" stroke-width="0.45"/>
<line x1="335.80" y1="209.80" x2="335.80" y2="233.80" stroke="#fff" stroke-width="0.45"/>
<line x1="355.13" y1="209.80" x2="355.13" y2="233.80" stroke="#fff" stroke-width="0.45"/>
<line x1="374.47" y1="209.80" x2="374.47" y2="233.80" stroke="#fff" stroke-width="0.45"/>
<line x1="393.81" y1="209.80" x2="393.81" y2="233.80" stroke="#fff" stroke-width="0.45"/>
<line x1="291.80" y1="211.90" x2="408.80" y2="211.90" stroke="#fff" stroke-width="0.45"/>
<line x1="291.80" y1="214.60" x2="408.80" y2="214.60" stroke="#fff" stroke-width="0.25"/>
<line x1="291.80" y1="217.30" x2="408.80" y2="217.30" stroke="#fff" stroke-width="0.45"/>
<line x1="291.80" y1="220.15" x2="408.80" y2="220.15" stroke="#fff" stroke-width="0.25"/>
<line x1="291.80" y1="223.00" x2="408.80" y2="223.00" stroke="#fff" stroke-width="0.45"/>
<line x1="291.80" y1="225.90" x2="408.80" y2="225.90" stroke="#fff" stroke-width="0.25"/>
<line x1="291.80" y1="228.80" x2="408.80" y2="228.80" stroke="#fff" stroke-width="0.45"/>
<polyline points="297.12,232.71 306.79,229.56 316.46,227.13 326.13,225.92 335.80,224.71 345.47,224.71 355.13,224.71 364.80,217.44 374.47,210.89 384.14,211.86 393.81,215.01 403.48,213.80" fill="none" stroke="#F3808F" stroke-width="1.1" stroke-dasharray="1.9,1.6"/>
<line x1="290.60" y1="211.90" x2="291.80" y2="211.90" stroke="#333" stroke-width="0.5"/>
<text x="0" y="0" transform="translate(289.40,213.45) scale(1.2,1)" text-anchor="end" class="a">45.0</text>
<line x1="290.60" y1="217.30" x2="291.80" y2="217.30" stroke="#333" stroke-width="0.5"/>
<text x="0" y="0" transform="translate(289.40,218.85) scale(1.2,1)" text-anchor="end" class="a">42.5</text>
<line x1="290.60" y1="223.00" x2="291.80" y2="223.00" stroke="#333" stroke-width="0.5"/>
<text x="0" y="0" transform="translate(289.40,224.55) scale(1.2,1)" text-anchor="end" class="a">40.0</text>
<line x1="290.60" y1="228.80" x2="291.80" y2="228.80" stroke="#333" stroke-width="0.5"/>
<text x="0" y="0" transform="translate(289.40,230.35) scale(1.2,1)" text-anchor="end" class="a">37.5</text>
<line x1="297.12" y1="233.80" x2="297.12" y2="235.00" stroke="#333" stroke-width="0.5"/>
<text x="0" y="0" transform="translate(297.12,237.90) scale(1.2,1)" text-anchor="middle" class="a">2001</text>
<line x1="316.46" y1="233.80" x2="316.46" y2="235.00" stroke="#333" stroke-width="0.5"/>
<text x="0" y="0" transform="translate(316.46,237.90) scale(1.2,1)" text-anchor="middle" class="a">2003</text>
<line x1="335.80" y1="233.80" x2="335.80" y2="235.00" stroke="#333" stroke-width="0.5"/>
<text x="0" y="0" transform="translate(335.80,237.90) scale(1.2,1)" text-anchor="middle" class="a">2005</text>
<line x1="355.13" y1="233.80" x2="355.13" y2="235.00" stroke="#333" stroke-width="0.5"/>
<text x="0" y="0" transform="translate(355.13,237.90) scale(1.2,1)" text-anchor="middle" class="a">2007</text>
<line x1="374.47" y1="233.80" x2="374.47" y2="235.00" stroke="#333" stroke-width="0.5"/>
<text x="0" y="0" transform="translate(374.47,237.90) scale(1.2,1)" text-anchor="middle" class="a">2009</text>
<line x1="393.81" y1="233.80" x2="393.81" y2="235.00" stroke="#333" stroke-width="0.5"/>
<text x="0" y="0" transform="translate(393.81,237.90) scale(1.2,1)" text-anchor="middle" class="a">2011</text>
<text x="0" y="0" transform="translate(291.80,208.40) scale(1.22,1)" class="t">United Kingdom</text>
<rect x="425.00" y="209.80" width="120.00" height="24.00" fill="#EBEBEB"/>
<line x1="432.93" y1="209.80" x2="432.93" y2="233.80" stroke="#fff" stroke-width="0.25"/>
<line x1="457.73" y1="209.80" x2="457.73" y2="233.80" stroke="#fff" stroke-width="0.25"/>
<line x1="482.52" y1="209.80" x2="482.52" y2="233.80" stroke="#fff" stroke-width="0.25"/>
<line x1="507.31" y1="209.80" x2="507.31" y2="233.80" stroke="#fff" stroke-width="0.25"/>
<line x1="532.11" y1="209.80" x2="532.11" y2="233.80" stroke="#fff" stroke-width="0.25"/>
<line x1="445.33" y1="209.80" x2="445.33" y2="233.80" stroke="#fff" stroke-width="0.45"/>
<line x1="470.12" y1="209.80" x2="470.12" y2="233.80" stroke="#fff" stroke-width="0.45"/>
<line x1="494.92" y1="209.80" x2="494.92" y2="233.80" stroke="#fff" stroke-width="0.45"/>
<line x1="519.71" y1="209.80" x2="519.71" y2="233.80" stroke="#fff" stroke-width="0.45"/>
<line x1="544.50" y1="209.80" x2="544.50" y2="233.80" stroke="#fff" stroke-width="0.45"/>
<line x1="425.00" y1="215.60" x2="545.00" y2="215.60" stroke="#fff" stroke-width="0.45"/>
<line x1="425.00" y1="218.65" x2="545.00" y2="218.65" stroke="#fff" stroke-width="0.25"/>
<line x1="425.00" y1="221.70" x2="545.00" y2="221.70" stroke="#fff" stroke-width="0.45"/>
<line x1="425.00" y1="224.85" x2="545.00" y2="224.85" stroke="#fff" stroke-width="0.25"/>
<line x1="425.00" y1="228.00" x2="545.00" y2="228.00" stroke="#fff" stroke-width="0.45"/>
<polyline points="430.45,232.71 440.37,230.73 450.29,228.74 460.21,228.74 470.12,228.25 480.04,228.25 489.96,226.76 499.88,222.54 509.79,211.88 519.71,210.89 529.63,213.37 539.55,216.84" fill="none" stroke="#F3808F" stroke-width="1.1" stroke-dasharray="1.9,1.6"/>
<line x1="423.80" y1="215.60" x2="425.00" y2="215.60" stroke="#333" stroke-width="0.5"/>
<text x="0" y="0" transform="translate(422.60,217.15) scale(1.2,1)" text-anchor="end" class="a">25</text>
<line x1="423.80" y1="221.70" x2="425.00" y2="221.70" stroke="#333" stroke-width="0.5"/>
<text x="0" y="0" transform="translate(422.60,223.25) scale(1.2,1)" text-anchor="end" class="a">23</text>
<line x1="423.80" y1="228.00" x2="425.00" y2="228.00" stroke="#333" stroke-width="0.5"/>
<text x="0" y="0" transform="translate(422.60,229.55) scale(1.2,1)" text-anchor="end" class="a">21</text>
<line x1="445.33" y1="233.80" x2="445.33" y2="235.00" stroke="#333" stroke-width="0.5"/>
<text x="0" y="0" transform="translate(445.33,237.90) scale(1.2,1)" text-anchor="middle" class="a">2002.5</text>
<line x1="470.12" y1="233.80" x2="470.12" y2="235.00" stroke="#333" stroke-width="0.5"/>
<text x="0" y="0" transform="translate(470.12,237.90) scale(1.2,1)" text-anchor="middle" class="a">2005.0</text>
<line x1="494.92" y1="233.80" x2="494.92" y2="235.00" stroke="#333" stroke-width="0.5"/>
<text x="0" y="0" transform="translate(494.92,237.90) scale(1.2,1)" text-anchor="middle" class="a">2007.5</text>
<line x1="519.71" y1="233.80" x2="519.71" y2="235.00" stroke="#333" stroke-width="0.5"/>
<text x="0" y="0" transform="translate(519.71,237.90) scale(1.2,1)" text-anchor="middle" class="a">2010.0</text>
<line x1="544.50" y1="233.80" x2="544.50" y2="235.00" stroke="#333" stroke-width="0.5"/>
<text x="0" y="0" transform="translate(544.50,237.90) scale(1.2,1)" text-anchor="middle" class="a">2012.5</text>
<text x="0" y="0" transform="translate(425.00,208.40) scale(1.22,1)" class="t">United States of America</text>
</svg>
</body></html>
